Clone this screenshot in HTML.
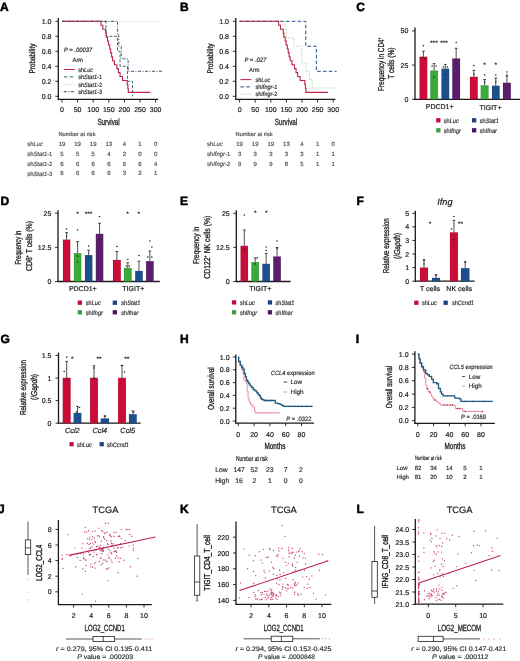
<!DOCTYPE html>
<html><head><meta charset="utf-8"><style>
html,body{margin:0;padding:0;background:#fff;}
svg{display:block;font-family:"Liberation Sans", sans-serif;filter:blur(0.3px);}
text{text-rendering:geometricPrecision;}
</style></head><body>
<svg width="520" height="661" viewBox="0 0 520 661">
<rect width="520" height="661" fill="#fff"/>
<text x="0.00" y="11.00" font-size="12" fill="#000" font-weight="bold" stroke="#000" stroke-width="0.5">A</text>
<path d="M62.00,21.30 L161.22,21.30" fill="none" stroke="#b5cdb0" stroke-width="0.9" stroke-dasharray="1,1.6"/>
<path d="M62.00,21.30 L105.99,21.30 L105.99,36.30 L117.54,36.30 L117.54,51.30 L120.03,51.30 L120.03,66.30 L127.52,66.30 L127.52,81.30 L132.51,81.30 L132.51,96.30 L132.51,96.30" fill="none" stroke="#2f6a78" stroke-width="1.0" stroke-dasharray="3,1.8"/>
<path d="M62.00,21.30 L117.54,21.30 L117.54,33.80 L118.78,33.80 L118.78,46.30 L121.28,46.30 L121.28,58.80 L128.14,58.80 L128.14,71.30 L161.84,71.30" fill="none" stroke="#3a3d5c" stroke-width="0.9" stroke-dasharray="3,1.5,1,1.5"/>
<path d="M62.00,21.30 L101.00,21.30 L101.00,25.25 L102.87,25.25 L102.87,29.19 L105.68,29.19 L105.68,33.14 L106.30,33.14 L106.30,37.09 L107.55,37.09 L107.55,41.04 L108.49,41.04 L108.49,44.98 L109.74,44.98 L109.74,48.93 L110.67,48.93 L110.67,52.88 L111.61,52.88 L111.61,56.83 L112.54,56.83 L112.54,60.77 L114.42,60.77 L114.42,64.72 L116.91,64.72 L116.91,68.67 L118.47,68.67 L118.47,72.62 L120.03,72.62 L120.03,76.56 L122.53,76.56 L122.53,80.51 L127.21,80.51 L127.21,84.46 L127.83,84.46 L127.83,88.41 L128.30,88.41 L128.30,92.35 L150.30,92.35" fill="none" stroke="#bc2449" stroke-width="1.1"/>
<line x1="58.30" y1="18.00" x2="58.30" y2="99.80" stroke="#1a1a1a" stroke-width="1.3"/>
<line x1="57.80" y1="99.30" x2="158.30" y2="99.30" stroke="#1a1a1a" stroke-width="1.3"/>
<line x1="55.30" y1="96.30" x2="58.30" y2="96.30" stroke="#1a1a1a" stroke-width="0.9"/>
<text x="51.50" y="98.82" font-size="7.0" fill="#222" text-anchor="end" stroke="#222" stroke-width="0.2">0.0</text>
<line x1="55.30" y1="81.30" x2="58.30" y2="81.30" stroke="#1a1a1a" stroke-width="0.9"/>
<text x="51.50" y="83.82" font-size="7.0" fill="#222" text-anchor="end" stroke="#222" stroke-width="0.2">0.2</text>
<line x1="55.30" y1="66.30" x2="58.30" y2="66.30" stroke="#1a1a1a" stroke-width="0.9"/>
<text x="51.50" y="68.82" font-size="7.0" fill="#222" text-anchor="end" stroke="#222" stroke-width="0.2">0.4</text>
<line x1="55.30" y1="51.30" x2="58.30" y2="51.30" stroke="#1a1a1a" stroke-width="0.9"/>
<text x="51.50" y="53.82" font-size="7.0" fill="#222" text-anchor="end" stroke="#222" stroke-width="0.2">0.6</text>
<line x1="55.30" y1="36.30" x2="58.30" y2="36.30" stroke="#1a1a1a" stroke-width="0.9"/>
<text x="51.50" y="38.82" font-size="7.0" fill="#222" text-anchor="end" stroke="#222" stroke-width="0.2">0.8</text>
<line x1="55.30" y1="21.30" x2="58.30" y2="21.30" stroke="#1a1a1a" stroke-width="0.9"/>
<text x="51.50" y="23.82" font-size="7.0" fill="#222" text-anchor="end" stroke="#222" stroke-width="0.2">1.0</text>
<line x1="62.00" y1="99.30" x2="62.00" y2="102.60" stroke="#1a1a1a" stroke-width="0.9"/>
<text x="62.00" y="111.92" font-size="7.0" fill="#222" text-anchor="middle" stroke="#222" stroke-width="0.2">0</text>
<line x1="77.60" y1="99.30" x2="77.60" y2="102.60" stroke="#1a1a1a" stroke-width="0.9"/>
<text x="77.60" y="111.92" font-size="7.0" fill="#222" text-anchor="middle" stroke="#222" stroke-width="0.2">50</text>
<line x1="93.20" y1="99.30" x2="93.20" y2="102.60" stroke="#1a1a1a" stroke-width="0.9"/>
<text x="93.20" y="111.92" font-size="7.0" fill="#222" text-anchor="middle" stroke="#222" stroke-width="0.2">100</text>
<line x1="108.80" y1="99.30" x2="108.80" y2="102.60" stroke="#1a1a1a" stroke-width="0.9"/>
<text x="108.80" y="111.92" font-size="7.0" fill="#222" text-anchor="middle" stroke="#222" stroke-width="0.2">150</text>
<line x1="124.40" y1="99.30" x2="124.40" y2="102.60" stroke="#1a1a1a" stroke-width="0.9"/>
<text x="124.40" y="111.92" font-size="7.0" fill="#222" text-anchor="middle" stroke="#222" stroke-width="0.2">200</text>
<line x1="140.00" y1="99.30" x2="140.00" y2="102.60" stroke="#1a1a1a" stroke-width="0.9"/>
<text x="140.00" y="111.92" font-size="7.0" fill="#222" text-anchor="middle" stroke="#222" stroke-width="0.2">250</text>
<line x1="155.60" y1="99.30" x2="155.60" y2="102.60" stroke="#1a1a1a" stroke-width="0.9"/>
<text x="155.60" y="111.92" font-size="7.0" fill="#222" text-anchor="middle" stroke="#222" stroke-width="0.2">300</text>
<text x="35.49" y="58.60" font-size="8.3" fill="#222" text-anchor="middle" textLength="30" lengthAdjust="spacingAndGlyphs" transform="rotate(-90 35.49 58.60)" stroke="#222" stroke-width="0.32">Probability</text>
<text x="108.60" y="125.24" font-size="9" fill="#222" text-anchor="middle" textLength="22.3" lengthAdjust="spacingAndGlyphs" stroke="#222" stroke-width="0.32">Survival</text>
<g transform="translate(64.00 52.07) scale(0.93 1)"><text x="0" y="0" font-size="6.3" fill="#333" font-style="italic" stroke="#333" stroke-width="0.2">P = .00037</text></g>
<g transform="translate(72.60 61.80) scale(0.93 1)"><text x="0" y="0" font-size="6.1" fill="#333" stroke="#333" stroke-width="0.2">Arm</text></g>
<line x1="63.80" y1="69.50" x2="74.70" y2="69.50" stroke="#bc2449" stroke-width="1.0"/>
<g transform="translate(78.20 71.73) scale(0.9 1)"><text x="0" y="0" font-size="6.2" fill="#333" stroke="#333" stroke-width="0.2">sh<tspan font-style="italic">Luc</tspan></text></g>
<line x1="63.80" y1="76.90" x2="74.70" y2="76.90" stroke="#2f6a78" stroke-width="1.0" stroke-dasharray="3.6,2.2"/>
<g transform="translate(78.20 79.13) scale(0.9 1)"><text x="0" y="0" font-size="6.2" fill="#333" stroke="#333" stroke-width="0.2">sh<tspan font-style="italic">Stat1</tspan>-1</text></g>
<line x1="63.80" y1="84.30" x2="74.70" y2="84.30" stroke="#b5cdb0" stroke-width="1.0" stroke-dasharray="1,1.6"/>
<g transform="translate(78.20 86.53) scale(0.9 1)"><text x="0" y="0" font-size="6.2" fill="#333" stroke="#333" stroke-width="0.2">sh<tspan font-style="italic">Stat1</tspan>-2</text></g>
<line x1="63.80" y1="91.70" x2="74.70" y2="91.70" stroke="#3a3d5c" stroke-width="1.0" stroke-dasharray="3,1.5,1,1.5"/>
<g transform="translate(78.20 93.93) scale(0.9 1)"><text x="0" y="0" font-size="6.2" fill="#333" stroke="#333" stroke-width="0.2">sh<tspan font-style="italic">Stat1</tspan>-3</text></g>
<text x="58.50" y="135.95" font-size="5.7" fill="#555" stroke="#555" stroke-width="0.2">Number at risk</text>
<g transform="translate(27.20 146.13) scale(0.95 1)"><text x="0" y="0" font-size="6.2" fill="#555" stroke="#555" stroke-width="0.2">sh<tspan font-style="italic">Luc</tspan></text></g>
<text x="62.00" y="146.06" font-size="6.0" fill="#555" text-anchor="middle" stroke="#555" stroke-width="0.2">19</text>
<text x="77.60" y="146.06" font-size="6.0" fill="#555" text-anchor="middle" stroke="#555" stroke-width="0.2">19</text>
<text x="93.20" y="146.06" font-size="6.0" fill="#555" text-anchor="middle" stroke="#555" stroke-width="0.2">19</text>
<text x="108.80" y="146.06" font-size="6.0" fill="#555" text-anchor="middle" stroke="#555" stroke-width="0.2">13</text>
<text x="124.40" y="146.06" font-size="6.0" fill="#555" text-anchor="middle" stroke="#555" stroke-width="0.2">4</text>
<text x="140.00" y="146.06" font-size="6.0" fill="#555" text-anchor="middle" stroke="#555" stroke-width="0.2">1</text>
<text x="155.60" y="146.06" font-size="6.0" fill="#555" text-anchor="middle" stroke="#555" stroke-width="0.2">0</text>
<g transform="translate(27.20 155.93) scale(0.95 1)"><text x="0" y="0" font-size="6.2" fill="#555" stroke="#555" stroke-width="0.2">sh<tspan font-style="italic">Stat1</tspan>-1</text></g>
<text x="62.00" y="155.86" font-size="6.0" fill="#555" text-anchor="middle" stroke="#555" stroke-width="0.2">5</text>
<text x="77.60" y="155.86" font-size="6.0" fill="#555" text-anchor="middle" stroke="#555" stroke-width="0.2">5</text>
<text x="93.20" y="155.86" font-size="6.0" fill="#555" text-anchor="middle" stroke="#555" stroke-width="0.2">5</text>
<text x="108.80" y="155.86" font-size="6.0" fill="#555" text-anchor="middle" stroke="#555" stroke-width="0.2">4</text>
<text x="124.40" y="155.86" font-size="6.0" fill="#555" text-anchor="middle" stroke="#555" stroke-width="0.2">2</text>
<text x="140.00" y="155.86" font-size="6.0" fill="#555" text-anchor="middle" stroke="#555" stroke-width="0.2">0</text>
<text x="155.60" y="155.86" font-size="6.0" fill="#555" text-anchor="middle" stroke="#555" stroke-width="0.2">0</text>
<g transform="translate(27.20 165.73) scale(0.95 1)"><text x="0" y="0" font-size="6.2" fill="#555" stroke="#555" stroke-width="0.2">sh<tspan font-style="italic">Stat1</tspan>-2</text></g>
<text x="62.00" y="165.66" font-size="6.0" fill="#555" text-anchor="middle" stroke="#555" stroke-width="0.2">6</text>
<text x="77.60" y="165.66" font-size="6.0" fill="#555" text-anchor="middle" stroke="#555" stroke-width="0.2">6</text>
<text x="93.20" y="165.66" font-size="6.0" fill="#555" text-anchor="middle" stroke="#555" stroke-width="0.2">6</text>
<text x="108.80" y="165.66" font-size="6.0" fill="#555" text-anchor="middle" stroke="#555" stroke-width="0.2">6</text>
<text x="124.40" y="165.66" font-size="6.0" fill="#555" text-anchor="middle" stroke="#555" stroke-width="0.2">6</text>
<text x="140.00" y="165.66" font-size="6.0" fill="#555" text-anchor="middle" stroke="#555" stroke-width="0.2">6</text>
<text x="155.60" y="165.66" font-size="6.0" fill="#555" text-anchor="middle" stroke="#555" stroke-width="0.2">4</text>
<g transform="translate(27.20 175.53) scale(0.95 1)"><text x="0" y="0" font-size="6.2" fill="#555" stroke="#555" stroke-width="0.2">sh<tspan font-style="italic">Stat1</tspan>-3</text></g>
<text x="62.00" y="175.46" font-size="6.0" fill="#555" text-anchor="middle" stroke="#555" stroke-width="0.2">6</text>
<text x="77.60" y="175.46" font-size="6.0" fill="#555" text-anchor="middle" stroke="#555" stroke-width="0.2">6</text>
<text x="93.20" y="175.46" font-size="6.0" fill="#555" text-anchor="middle" stroke="#555" stroke-width="0.2">6</text>
<text x="108.80" y="175.46" font-size="6.0" fill="#555" text-anchor="middle" stroke="#555" stroke-width="0.2">6</text>
<text x="124.40" y="175.46" font-size="6.0" fill="#555" text-anchor="middle" stroke="#555" stroke-width="0.2">3</text>
<text x="140.00" y="175.46" font-size="6.0" fill="#555" text-anchor="middle" stroke="#555" stroke-width="0.2">2</text>
<text x="155.60" y="175.46" font-size="6.0" fill="#555" text-anchor="middle" stroke="#555" stroke-width="0.2">1</text>
<text x="180.00" y="11.00" font-size="12" fill="#000" font-weight="bold" stroke="#000" stroke-width="0.5">B</text>
<path d="M239.60,21.30 L285.15,21.30 L285.15,29.63 L286.40,29.63 L286.40,37.97 L293.89,37.97 L293.89,46.30 L301.69,46.30 L301.69,54.63 L302.00,54.63 L302.00,62.97 L306.06,62.97 L306.06,71.30 L309.49,71.30 L309.49,79.63 L312.30,79.63 L312.30,87.97 L336.63,87.97" fill="none" stroke="#8fcf8a" stroke-width="0.9" stroke-dasharray="1,1.4"/>
<path d="M239.60,21.30 L305.74,21.30 L305.74,46.30 L316.35,46.30 L316.35,71.30 L336.63,71.30" fill="none" stroke="#2b4c8c" stroke-width="1.0" stroke-dasharray="3.6,2.2"/>
<path d="M239.60,21.30 L278.60,21.30 L278.60,25.25 L280.47,25.25 L280.47,29.19 L283.28,29.19 L283.28,33.14 L283.90,33.14 L283.90,37.09 L285.15,37.09 L285.15,41.04 L286.09,41.04 L286.09,44.98 L287.34,44.98 L287.34,48.93 L288.27,48.93 L288.27,52.88 L289.21,52.88 L289.21,56.83 L290.14,56.83 L290.14,60.77 L292.02,60.77 L292.02,64.72 L294.51,64.72 L294.51,68.67 L296.07,68.67 L296.07,72.62 L297.63,72.62 L297.63,76.56 L300.13,76.56 L300.13,80.51 L304.81,80.51 L304.81,84.46 L305.43,84.46 L305.43,88.41 L305.90,88.41 L305.90,92.35 L327.90,92.35" fill="none" stroke="#bc2449" stroke-width="1.1"/>
<line x1="235.80" y1="18.00" x2="235.80" y2="99.80" stroke="#1a1a1a" stroke-width="1.3"/>
<line x1="235.30" y1="99.30" x2="335.50" y2="99.30" stroke="#1a1a1a" stroke-width="1.3"/>
<line x1="232.80" y1="96.30" x2="235.80" y2="96.30" stroke="#1a1a1a" stroke-width="0.9"/>
<text x="229.00" y="98.82" font-size="7.0" fill="#222" text-anchor="end" stroke="#222" stroke-width="0.2">0.0</text>
<line x1="232.80" y1="81.30" x2="235.80" y2="81.30" stroke="#1a1a1a" stroke-width="0.9"/>
<text x="229.00" y="83.82" font-size="7.0" fill="#222" text-anchor="end" stroke="#222" stroke-width="0.2">0.2</text>
<line x1="232.80" y1="66.30" x2="235.80" y2="66.30" stroke="#1a1a1a" stroke-width="0.9"/>
<text x="229.00" y="68.82" font-size="7.0" fill="#222" text-anchor="end" stroke="#222" stroke-width="0.2">0.4</text>
<line x1="232.80" y1="51.30" x2="235.80" y2="51.30" stroke="#1a1a1a" stroke-width="0.9"/>
<text x="229.00" y="53.82" font-size="7.0" fill="#222" text-anchor="end" stroke="#222" stroke-width="0.2">0.6</text>
<line x1="232.80" y1="36.30" x2="235.80" y2="36.30" stroke="#1a1a1a" stroke-width="0.9"/>
<text x="229.00" y="38.82" font-size="7.0" fill="#222" text-anchor="end" stroke="#222" stroke-width="0.2">0.8</text>
<line x1="232.80" y1="21.30" x2="235.80" y2="21.30" stroke="#1a1a1a" stroke-width="0.9"/>
<text x="229.00" y="23.82" font-size="7.0" fill="#222" text-anchor="end" stroke="#222" stroke-width="0.2">1.0</text>
<line x1="239.60" y1="99.30" x2="239.60" y2="102.60" stroke="#1a1a1a" stroke-width="0.9"/>
<text x="239.60" y="111.92" font-size="7.0" fill="#222" text-anchor="middle" stroke="#222" stroke-width="0.2">0</text>
<line x1="255.20" y1="99.30" x2="255.20" y2="102.60" stroke="#1a1a1a" stroke-width="0.9"/>
<text x="255.20" y="111.92" font-size="7.0" fill="#222" text-anchor="middle" stroke="#222" stroke-width="0.2">50</text>
<line x1="270.80" y1="99.30" x2="270.80" y2="102.60" stroke="#1a1a1a" stroke-width="0.9"/>
<text x="270.80" y="111.92" font-size="7.0" fill="#222" text-anchor="middle" stroke="#222" stroke-width="0.2">100</text>
<line x1="286.40" y1="99.30" x2="286.40" y2="102.60" stroke="#1a1a1a" stroke-width="0.9"/>
<text x="286.40" y="111.92" font-size="7.0" fill="#222" text-anchor="middle" stroke="#222" stroke-width="0.2">150</text>
<line x1="302.00" y1="99.30" x2="302.00" y2="102.60" stroke="#1a1a1a" stroke-width="0.9"/>
<text x="302.00" y="111.92" font-size="7.0" fill="#222" text-anchor="middle" stroke="#222" stroke-width="0.2">200</text>
<line x1="317.60" y1="99.30" x2="317.60" y2="102.60" stroke="#1a1a1a" stroke-width="0.9"/>
<text x="317.60" y="111.92" font-size="7.0" fill="#222" text-anchor="middle" stroke="#222" stroke-width="0.2">250</text>
<line x1="333.20" y1="99.30" x2="333.20" y2="102.60" stroke="#1a1a1a" stroke-width="0.9"/>
<text x="333.20" y="111.92" font-size="7.0" fill="#222" text-anchor="middle" stroke="#222" stroke-width="0.2">300</text>
<text x="213.19" y="58.60" font-size="8.3" fill="#222" text-anchor="middle" textLength="30" lengthAdjust="spacingAndGlyphs" transform="rotate(-90 213.19 58.60)" stroke="#222" stroke-width="0.32">Probability</text>
<text x="286.00" y="125.24" font-size="9" fill="#222" text-anchor="middle" textLength="22.3" lengthAdjust="spacingAndGlyphs" stroke="#222" stroke-width="0.32">Survival</text>
<g transform="translate(244.40 62.47) scale(0.93 1)"><text x="0" y="0" font-size="6.3" fill="#333" font-style="italic" stroke="#333" stroke-width="0.2">P = .027</text></g>
<g transform="translate(249.00 72.20) scale(0.93 1)"><text x="0" y="0" font-size="6.1" fill="#333" stroke="#333" stroke-width="0.2">Arm</text></g>
<line x1="240.40" y1="79.60" x2="251.30" y2="79.60" stroke="#bc2449" stroke-width="1.0"/>
<g transform="translate(255.40 81.83) scale(0.9 1)"><text x="0" y="0" font-size="6.2" fill="#333" stroke="#333" stroke-width="0.2">sh<tspan font-style="italic">Luc</tspan></text></g>
<line x1="240.40" y1="86.90" x2="251.30" y2="86.90" stroke="#2b4c8c" stroke-width="1.0" stroke-dasharray="3.6,2.2"/>
<g transform="translate(255.40 89.13) scale(0.9 1)"><text x="0" y="0" font-size="6.2" fill="#333" stroke="#333" stroke-width="0.2">sh<tspan font-style="italic">Ifngr</tspan>-1</text></g>
<line x1="240.40" y1="94.20" x2="251.30" y2="94.20" stroke="#8fcf8a" stroke-width="1.0" stroke-dasharray="1,1.4"/>
<g transform="translate(255.40 96.43) scale(0.9 1)"><text x="0" y="0" font-size="6.2" fill="#333" stroke="#333" stroke-width="0.2">sh<tspan font-style="italic">Ifngr</tspan>-2</text></g>
<text x="235.60" y="135.95" font-size="5.7" fill="#555" stroke="#555" stroke-width="0.2">Number at risk</text>
<g transform="translate(207.00 146.13) scale(0.95 1)"><text x="0" y="0" font-size="6.2" fill="#555" stroke="#555" stroke-width="0.2">sh<tspan font-style="italic">Luc</tspan></text></g>
<text x="239.60" y="146.06" font-size="6.0" fill="#555" text-anchor="middle" stroke="#555" stroke-width="0.2">19</text>
<text x="255.20" y="146.06" font-size="6.0" fill="#555" text-anchor="middle" stroke="#555" stroke-width="0.2">19</text>
<text x="270.80" y="146.06" font-size="6.0" fill="#555" text-anchor="middle" stroke="#555" stroke-width="0.2">19</text>
<text x="286.40" y="146.06" font-size="6.0" fill="#555" text-anchor="middle" stroke="#555" stroke-width="0.2">13</text>
<text x="302.00" y="146.06" font-size="6.0" fill="#555" text-anchor="middle" stroke="#555" stroke-width="0.2">4</text>
<text x="317.60" y="146.06" font-size="6.0" fill="#555" text-anchor="middle" stroke="#555" stroke-width="0.2">1</text>
<text x="333.20" y="146.06" font-size="6.0" fill="#555" text-anchor="middle" stroke="#555" stroke-width="0.2">0</text>
<g transform="translate(207.00 155.93) scale(0.95 1)"><text x="0" y="0" font-size="6.2" fill="#555" stroke="#555" stroke-width="0.2">sh<tspan font-style="italic">Ifngr</tspan>-1</text></g>
<text x="239.60" y="155.86" font-size="6.0" fill="#555" text-anchor="middle" stroke="#555" stroke-width="0.2">3</text>
<text x="255.20" y="155.86" font-size="6.0" fill="#555" text-anchor="middle" stroke="#555" stroke-width="0.2">3</text>
<text x="270.80" y="155.86" font-size="6.0" fill="#555" text-anchor="middle" stroke="#555" stroke-width="0.2">3</text>
<text x="286.40" y="155.86" font-size="6.0" fill="#555" text-anchor="middle" stroke="#555" stroke-width="0.2">3</text>
<text x="302.00" y="155.86" font-size="6.0" fill="#555" text-anchor="middle" stroke="#555" stroke-width="0.2">3</text>
<text x="317.60" y="155.86" font-size="6.0" fill="#555" text-anchor="middle" stroke="#555" stroke-width="0.2">1</text>
<text x="333.20" y="155.86" font-size="6.0" fill="#555" text-anchor="middle" stroke="#555" stroke-width="0.2">1</text>
<g transform="translate(207.00 165.73) scale(0.95 1)"><text x="0" y="0" font-size="6.2" fill="#555" stroke="#555" stroke-width="0.2">sh<tspan font-style="italic">Ifngr</tspan>-2</text></g>
<text x="239.60" y="165.66" font-size="6.0" fill="#555" text-anchor="middle" stroke="#555" stroke-width="0.2">9</text>
<text x="255.20" y="165.66" font-size="6.0" fill="#555" text-anchor="middle" stroke="#555" stroke-width="0.2">9</text>
<text x="270.80" y="165.66" font-size="6.0" fill="#555" text-anchor="middle" stroke="#555" stroke-width="0.2">9</text>
<text x="286.40" y="165.66" font-size="6.0" fill="#555" text-anchor="middle" stroke="#555" stroke-width="0.2">8</text>
<text x="302.00" y="165.66" font-size="6.0" fill="#555" text-anchor="middle" stroke="#555" stroke-width="0.2">5</text>
<text x="317.60" y="165.66" font-size="6.0" fill="#555" text-anchor="middle" stroke="#555" stroke-width="0.2">1</text>
<text x="333.20" y="165.66" font-size="6.0" fill="#555" text-anchor="middle" stroke="#555" stroke-width="0.2">1</text>
<text x="356.30" y="11.00" font-size="12" fill="#000" font-weight="bold" stroke="#000" stroke-width="0.5">C</text>
<line x1="415.00" y1="27.60" x2="415.00" y2="99.80" stroke="#1a1a1a" stroke-width="1.3"/>
<line x1="414.50" y1="99.30" x2="520.00" y2="99.30" stroke="#1a1a1a" stroke-width="1.3"/>
<line x1="412.00" y1="99.30" x2="415.00" y2="99.30" stroke="#1a1a1a" stroke-width="0.9"/>
<text x="408.40" y="101.82" font-size="7.0" fill="#222" text-anchor="end" stroke="#222" stroke-width="0.2">0</text>
<line x1="412.00" y1="65.10" x2="415.00" y2="65.10" stroke="#1a1a1a" stroke-width="0.9"/>
<text x="408.40" y="67.62" font-size="7.0" fill="#222" text-anchor="end" stroke="#222" stroke-width="0.2">25</text>
<line x1="412.00" y1="30.90" x2="415.00" y2="30.90" stroke="#1a1a1a" stroke-width="0.9"/>
<text x="408.40" y="33.42" font-size="7.0" fill="#222" text-anchor="end" stroke="#222" stroke-width="0.2">50</text>
<text x="383.60" y="64.20" font-size="8.6" fill="#222" text-anchor="middle" textLength="53.5" lengthAdjust="spacingAndGlyphs" transform="rotate(-90 383.60 64.20)" stroke="#222" stroke-width="0.32">Frequency in CD4<tspan font-size="4.5" dy="-2.5">+</tspan></text>
<text x="394.10" y="63.10" font-size="8.6" fill="#222" text-anchor="middle" textLength="31.3" lengthAdjust="spacingAndGlyphs" transform="rotate(-90 394.10 63.10)" stroke="#222" stroke-width="0.32">T cells (%)</text>
<rect x="419.60" y="56.80" width="7.60" height="42.50" fill="#cc0c38" stroke="rgba(0,0,0,0.25)" stroke-width="0.4"/>
<line x1="423.40" y1="51.20" x2="423.40" y2="56.80" stroke="#222" stroke-width="0.8"/>
<line x1="422.00" y1="51.20" x2="424.80" y2="51.20" stroke="#222" stroke-width="0.8"/>
<circle cx="423.40" cy="45.80" r="0.8" fill="#222"/>
<circle cx="421.90" cy="57.50" r="0.8" fill="#222"/>
<circle cx="424.90" cy="59.00" r="0.8" fill="#222"/>
<rect x="430.30" y="70.70" width="7.60" height="28.60" fill="#3aaa3a" stroke="rgba(0,0,0,0.25)" stroke-width="0.4"/>
<line x1="434.10" y1="63.60" x2="434.10" y2="70.70" stroke="#222" stroke-width="0.8"/>
<line x1="432.70" y1="63.60" x2="435.50" y2="63.60" stroke="#222" stroke-width="0.8"/>
<circle cx="432.10" cy="66.00" r="0.8" fill="#222"/>
<circle cx="436.10" cy="66.00" r="0.8" fill="#222"/>
<circle cx="434.10" cy="77.00" r="0.8" fill="#222"/>
<rect x="441.50" y="68.80" width="7.60" height="30.50" fill="#1d4f8f" stroke="rgba(0,0,0,0.25)" stroke-width="0.4"/>
<line x1="445.30" y1="64.40" x2="445.30" y2="68.80" stroke="#222" stroke-width="0.8"/>
<line x1="443.90" y1="64.40" x2="446.70" y2="64.40" stroke="#222" stroke-width="0.8"/>
<circle cx="443.30" cy="67.00" r="0.8" fill="#222"/>
<circle cx="447.30" cy="67.00" r="0.8" fill="#222"/>
<circle cx="445.30" cy="75.00" r="0.8" fill="#222"/>
<rect x="452.30" y="58.50" width="7.70" height="40.80" fill="#5a1f6c" stroke="rgba(0,0,0,0.25)" stroke-width="0.4"/>
<line x1="456.15" y1="48.30" x2="456.15" y2="58.50" stroke="#222" stroke-width="0.8"/>
<line x1="454.75" y1="48.30" x2="457.55" y2="48.30" stroke="#222" stroke-width="0.8"/>
<circle cx="456.15" cy="42.50" r="0.8" fill="#222"/>
<circle cx="456.15" cy="63.00" r="0.8" fill="#222"/>
<rect x="470.00" y="76.90" width="7.70" height="22.40" fill="#cc0c38" stroke="rgba(0,0,0,0.25)" stroke-width="0.4"/>
<line x1="473.85" y1="70.40" x2="473.85" y2="76.90" stroke="#222" stroke-width="0.8"/>
<line x1="472.45" y1="70.40" x2="475.25" y2="70.40" stroke="#222" stroke-width="0.8"/>
<circle cx="473.85" cy="65.60" r="0.8" fill="#222"/>
<circle cx="473.85" cy="74.00" r="0.8" fill="#222"/>
<rect x="480.80" y="85.40" width="7.70" height="13.90" fill="#3aaa3a" stroke="rgba(0,0,0,0.25)" stroke-width="0.4"/>
<line x1="484.65" y1="79.50" x2="484.65" y2="85.40" stroke="#222" stroke-width="0.8"/>
<line x1="483.25" y1="79.50" x2="486.05" y2="79.50" stroke="#222" stroke-width="0.8"/>
<circle cx="484.65" cy="75.00" r="0.8" fill="#222"/>
<circle cx="484.65" cy="82.00" r="0.8" fill="#222"/>
<rect x="492.00" y="85.80" width="7.60" height="13.50" fill="#1d4f8f" stroke="rgba(0,0,0,0.25)" stroke-width="0.4"/>
<line x1="495.80" y1="78.00" x2="495.80" y2="85.80" stroke="#222" stroke-width="0.8"/>
<line x1="494.40" y1="78.00" x2="497.20" y2="78.00" stroke="#222" stroke-width="0.8"/>
<circle cx="495.80" cy="75.00" r="0.8" fill="#222"/>
<circle cx="495.80" cy="82.00" r="0.8" fill="#222"/>
<rect x="503.00" y="82.80" width="7.80" height="16.50" fill="#5a1f6c" stroke="rgba(0,0,0,0.25)" stroke-width="0.4"/>
<line x1="506.90" y1="76.00" x2="506.90" y2="82.80" stroke="#222" stroke-width="0.8"/>
<line x1="505.50" y1="76.00" x2="508.30" y2="76.00" stroke="#222" stroke-width="0.8"/>
<circle cx="506.90" cy="72.00" r="0.8" fill="#222"/>
<circle cx="506.90" cy="75.00" r="0.8" fill="#222"/>
<text x="433.90" y="45.03" font-size="6.6" fill="#222" text-anchor="middle" stroke="#222" stroke-width="0.15">***</text>
<text x="444.00" y="45.03" font-size="6.6" fill="#222" text-anchor="middle" stroke="#222" stroke-width="0.15">***</text>
<text x="484.60" y="66.53" font-size="6.6" fill="#222" text-anchor="middle" stroke="#222" stroke-width="0.15">*</text>
<text x="495.80" y="66.53" font-size="6.6" fill="#222" text-anchor="middle" stroke="#222" stroke-width="0.15">*</text>
<text x="439.70" y="109.12" font-size="7.0" fill="#222" text-anchor="middle" stroke="#222" stroke-width="0.2">PDCD1+</text>
<text x="490.50" y="109.52" font-size="7.0" fill="#222" text-anchor="middle" stroke="#222" stroke-width="0.2">TIGIT+</text>
<rect x="436.20" y="118.15" width="4.30" height="4.30" fill="#c20e38" stroke="none" stroke-width="0"/>
<g transform="translate(443.80 122.60) scale(0.875 1)"><text x="0" y="0" font-size="6.4" fill="#333" stroke="#333" stroke-width="0.2">sh<tspan font-style="italic">Luc</tspan></text></g>
<rect x="472.00" y="118.15" width="4.30" height="4.30" fill="#1b427e" stroke="none" stroke-width="0"/>
<g transform="translate(479.80 122.60) scale(0.875 1)"><text x="0" y="0" font-size="6.4" fill="#333" stroke="#333" stroke-width="0.2">sh<tspan font-style="italic">Stat1</tspan></text></g>
<rect x="436.20" y="128.15" width="4.30" height="4.30" fill="#3a9f3a" stroke="none" stroke-width="0"/>
<g transform="translate(443.80 132.60) scale(0.875 1)"><text x="0" y="0" font-size="6.4" fill="#333" stroke="#333" stroke-width="0.2">sh<tspan font-style="italic">Ifngr</tspan></text></g>
<rect x="472.00" y="128.15" width="4.30" height="4.30" fill="#46195c" stroke="none" stroke-width="0"/>
<g transform="translate(479.80 132.60) scale(0.875 1)"><text x="0" y="0" font-size="6.4" fill="#333" stroke="#333" stroke-width="0.2">sh<tspan font-style="italic">Ifnar</tspan></text></g>
<text x="0.50" y="204.80" font-size="12" fill="#000" font-weight="bold" stroke="#000" stroke-width="0.5">D</text>
<line x1="58.00" y1="210.20" x2="58.00" y2="282.00" stroke="#1a1a1a" stroke-width="1.3"/>
<line x1="57.50" y1="281.50" x2="159.80" y2="281.50" stroke="#1a1a1a" stroke-width="1.3"/>
<line x1="55.00" y1="281.50" x2="58.00" y2="281.50" stroke="#1a1a1a" stroke-width="0.9"/>
<text x="51.40" y="284.02" font-size="7.0" fill="#222" text-anchor="end" stroke="#222" stroke-width="0.2">0</text>
<line x1="55.00" y1="247.35" x2="58.00" y2="247.35" stroke="#1a1a1a" stroke-width="0.9"/>
<text x="51.40" y="249.87" font-size="7.0" fill="#222" text-anchor="end" stroke="#222" stroke-width="0.2">12.5</text>
<line x1="55.00" y1="213.20" x2="58.00" y2="213.20" stroke="#1a1a1a" stroke-width="0.9"/>
<text x="51.40" y="215.72" font-size="7.0" fill="#222" text-anchor="end" stroke="#222" stroke-width="0.2">25</text>
<text x="21.30" y="247.60" font-size="8.6" fill="#222" text-anchor="middle" textLength="34" lengthAdjust="spacingAndGlyphs" transform="rotate(-90 21.30 247.60)" stroke="#222" stroke-width="0.32">Frequency in</text>
<text x="31.90" y="246.00" font-size="8.6" fill="#222" text-anchor="middle" textLength="50" lengthAdjust="spacingAndGlyphs" transform="rotate(-90 31.90 246.00)" stroke="#222" stroke-width="0.32">CD8<tspan font-size="4.5" dy="-2.5">+</tspan><tspan dy="2.5"> T cells (%)</tspan></text>
<rect x="63.00" y="239.70" width="7.20" height="41.80" fill="#cc0c38" stroke="rgba(0,0,0,0.25)" stroke-width="0.4"/>
<line x1="66.60" y1="232.60" x2="66.60" y2="239.70" stroke="#222" stroke-width="0.8"/>
<line x1="65.20" y1="232.60" x2="68.00" y2="232.60" stroke="#222" stroke-width="0.8"/>
<circle cx="66.60" cy="229.00" r="0.8" fill="#222"/>
<circle cx="66.60" cy="236.00" r="0.8" fill="#222"/>
<rect x="74.00" y="253.20" width="7.20" height="28.30" fill="#3aaa3a" stroke="rgba(0,0,0,0.25)" stroke-width="0.4"/>
<line x1="77.60" y1="241.60" x2="77.60" y2="253.20" stroke="#222" stroke-width="0.8"/>
<line x1="76.20" y1="241.60" x2="79.00" y2="241.60" stroke="#222" stroke-width="0.8"/>
<circle cx="77.60" cy="230.00" r="0.8" fill="#222"/>
<circle cx="77.60" cy="256.00" r="0.8" fill="#222"/>
<circle cx="77.60" cy="262.00" r="0.8" fill="#222"/>
<rect x="85.00" y="255.10" width="7.30" height="26.40" fill="#1d4f8f" stroke="rgba(0,0,0,0.25)" stroke-width="0.4"/>
<line x1="88.65" y1="250.20" x2="88.65" y2="255.10" stroke="#222" stroke-width="0.8"/>
<line x1="87.25" y1="250.20" x2="90.05" y2="250.20" stroke="#222" stroke-width="0.8"/>
<circle cx="88.65" cy="246.00" r="0.8" fill="#222"/>
<circle cx="88.65" cy="258.00" r="0.8" fill="#222"/>
<rect x="95.90" y="233.90" width="7.30" height="47.60" fill="#5a1f6c" stroke="rgba(0,0,0,0.25)" stroke-width="0.4"/>
<line x1="99.55" y1="223.30" x2="99.55" y2="233.90" stroke="#222" stroke-width="0.8"/>
<line x1="98.15" y1="223.30" x2="100.95" y2="223.30" stroke="#222" stroke-width="0.8"/>
<circle cx="99.55" cy="216.50" r="0.8" fill="#222"/>
<circle cx="99.55" cy="240.00" r="0.8" fill="#222"/>
<rect x="113.00" y="260.00" width="7.80" height="21.50" fill="#cc0c38" stroke="rgba(0,0,0,0.25)" stroke-width="0.4"/>
<line x1="116.90" y1="251.50" x2="116.90" y2="260.00" stroke="#222" stroke-width="0.8"/>
<line x1="115.50" y1="251.50" x2="118.30" y2="251.50" stroke="#222" stroke-width="0.8"/>
<circle cx="116.90" cy="246.50" r="0.8" fill="#222"/>
<rect x="124.00" y="268.00" width="7.60" height="13.50" fill="#3aaa3a" stroke="rgba(0,0,0,0.25)" stroke-width="0.4"/>
<line x1="127.80" y1="262.80" x2="127.80" y2="268.00" stroke="#222" stroke-width="0.8"/>
<line x1="126.40" y1="262.80" x2="129.20" y2="262.80" stroke="#222" stroke-width="0.8"/>
<circle cx="127.80" cy="259.50" r="0.8" fill="#222"/>
<circle cx="126.30" cy="266.00" r="0.8" fill="#222"/>
<circle cx="129.30" cy="266.00" r="0.8" fill="#222"/>
<rect x="135.20" y="271.00" width="7.50" height="10.50" fill="#1d4f8f" stroke="rgba(0,0,0,0.25)" stroke-width="0.4"/>
<line x1="138.95" y1="261.20" x2="138.95" y2="271.00" stroke="#222" stroke-width="0.8"/>
<line x1="137.55" y1="261.20" x2="140.35" y2="261.20" stroke="#222" stroke-width="0.8"/>
<circle cx="138.95" cy="255.50" r="0.8" fill="#222"/>
<rect x="146.10" y="261.20" width="7.50" height="20.30" fill="#5a1f6c" stroke="rgba(0,0,0,0.25)" stroke-width="0.4"/>
<line x1="149.85" y1="251.00" x2="149.85" y2="261.20" stroke="#222" stroke-width="0.8"/>
<line x1="148.45" y1="251.00" x2="151.25" y2="251.00" stroke="#222" stroke-width="0.8"/>
<circle cx="149.85" cy="241.00" r="0.8" fill="#222"/>
<circle cx="151.85" cy="247.00" r="0.8" fill="#222"/>
<circle cx="147.85" cy="257.00" r="0.8" fill="#222"/>
<circle cx="151.85" cy="257.00" r="0.8" fill="#222"/>
<text x="77.50" y="215.53" font-size="6.6" fill="#222" text-anchor="middle" stroke="#222" stroke-width="0.15">*</text>
<text x="88.60" y="215.53" font-size="6.6" fill="#222" text-anchor="middle" stroke="#222" stroke-width="0.15">***</text>
<text x="127.60" y="215.53" font-size="6.6" fill="#222" text-anchor="middle" stroke="#222" stroke-width="0.15">*</text>
<text x="138.90" y="215.53" font-size="6.6" fill="#222" text-anchor="middle" stroke="#222" stroke-width="0.15">*</text>
<text x="82.80" y="291.22" font-size="7.0" fill="#222" text-anchor="middle" stroke="#222" stroke-width="0.2">PDCD1+</text>
<text x="133.30" y="291.42" font-size="7.0" fill="#222" text-anchor="middle" stroke="#222" stroke-width="0.2">TIGIT+</text>
<rect x="77.70" y="300.55" width="4.30" height="4.30" fill="#c20e38" stroke="none" stroke-width="0"/>
<g transform="translate(85.80 305.00) scale(0.875 1)"><text x="0" y="0" font-size="6.4" fill="#333" stroke="#333" stroke-width="0.2">sh<tspan font-style="italic">Luc</tspan></text></g>
<rect x="112.70" y="300.55" width="4.30" height="4.30" fill="#1b427e" stroke="none" stroke-width="0"/>
<g transform="translate(121.30 305.00) scale(0.875 1)"><text x="0" y="0" font-size="6.4" fill="#333" stroke="#333" stroke-width="0.2">sh<tspan font-style="italic">Stat1</tspan></text></g>
<rect x="77.70" y="310.15" width="4.30" height="4.30" fill="#3a9f3a" stroke="none" stroke-width="0"/>
<g transform="translate(85.80 314.60) scale(0.875 1)"><text x="0" y="0" font-size="6.4" fill="#333" stroke="#333" stroke-width="0.2">sh<tspan font-style="italic">Ifngr</tspan></text></g>
<rect x="112.70" y="310.15" width="4.30" height="4.30" fill="#46195c" stroke="none" stroke-width="0"/>
<g transform="translate(121.30 314.60) scale(0.875 1)"><text x="0" y="0" font-size="6.4" fill="#333" stroke="#333" stroke-width="0.2">sh<tspan font-style="italic">Ifnar</tspan></text></g>
<text x="180.00" y="205.00" font-size="12" fill="#000" font-weight="bold" stroke="#000" stroke-width="0.5">E</text>
<line x1="236.30" y1="210.30" x2="236.30" y2="282.00" stroke="#1a1a1a" stroke-width="1.3"/>
<line x1="235.80" y1="281.50" x2="290.60" y2="281.50" stroke="#1a1a1a" stroke-width="1.3"/>
<line x1="233.30" y1="281.50" x2="236.30" y2="281.50" stroke="#1a1a1a" stroke-width="0.9"/>
<text x="229.70" y="284.02" font-size="7.0" fill="#222" text-anchor="end" stroke="#222" stroke-width="0.2">0</text>
<line x1="233.30" y1="247.40" x2="236.30" y2="247.40" stroke="#1a1a1a" stroke-width="0.9"/>
<text x="229.70" y="249.92" font-size="7.0" fill="#222" text-anchor="end" stroke="#222" stroke-width="0.2">12.5</text>
<line x1="233.30" y1="213.30" x2="236.30" y2="213.30" stroke="#1a1a1a" stroke-width="0.9"/>
<text x="229.70" y="215.82" font-size="7.0" fill="#222" text-anchor="end" stroke="#222" stroke-width="0.2">25</text>
<text x="199.10" y="245.30" font-size="8.6" fill="#222" text-anchor="middle" textLength="37.5" lengthAdjust="spacingAndGlyphs" transform="rotate(-90 199.10 245.30)" stroke="#222" stroke-width="0.32">Frequency in</text>
<text x="209.70" y="247.20" font-size="8.6" fill="#222" text-anchor="middle" textLength="63" lengthAdjust="spacingAndGlyphs" transform="rotate(-90 209.70 247.20)" stroke="#222" stroke-width="0.32">CD122<tspan font-size="4.5" dy="-2.5">+</tspan><tspan dy="2.5"> NK cells (%)</tspan></text>
<rect x="240.60" y="245.90" width="7.40" height="35.60" fill="#cc0c38" stroke="rgba(0,0,0,0.25)" stroke-width="0.4"/>
<line x1="244.30" y1="229.90" x2="244.30" y2="245.90" stroke="#222" stroke-width="0.8"/>
<line x1="242.90" y1="229.90" x2="245.70" y2="229.90" stroke="#222" stroke-width="0.8"/>
<circle cx="244.30" cy="215.00" r="0.8" fill="#222"/>
<circle cx="244.30" cy="250.00" r="0.8" fill="#222"/>
<rect x="251.40" y="262.20" width="7.50" height="19.30" fill="#3aaa3a" stroke="rgba(0,0,0,0.25)" stroke-width="0.4"/>
<line x1="255.15" y1="257.90" x2="255.15" y2="262.20" stroke="#222" stroke-width="0.8"/>
<line x1="253.75" y1="257.90" x2="256.55" y2="257.90" stroke="#222" stroke-width="0.8"/>
<circle cx="255.15" cy="264.00" r="0.8" fill="#222"/>
<circle cx="257.15" cy="258.00" r="0.8" fill="#222"/>
<rect x="262.40" y="263.90" width="7.50" height="17.60" fill="#1d4f8f" stroke="rgba(0,0,0,0.25)" stroke-width="0.4"/>
<line x1="266.15" y1="253.40" x2="266.15" y2="263.90" stroke="#222" stroke-width="0.8"/>
<line x1="264.75" y1="253.40" x2="267.55" y2="253.40" stroke="#222" stroke-width="0.8"/>
<circle cx="266.15" cy="247.00" r="0.8" fill="#222"/>
<circle cx="266.15" cy="250.50" r="0.8" fill="#222"/>
<rect x="273.30" y="256.50" width="7.50" height="25.00" fill="#5a1f6c" stroke="rgba(0,0,0,0.25)" stroke-width="0.4"/>
<line x1="277.05" y1="247.50" x2="277.05" y2="256.50" stroke="#222" stroke-width="0.8"/>
<line x1="275.65" y1="247.50" x2="278.45" y2="247.50" stroke="#222" stroke-width="0.8"/>
<circle cx="277.05" cy="241.00" r="0.8" fill="#222"/>
<circle cx="277.05" cy="248.50" r="0.8" fill="#222"/>
<text x="255.20" y="215.33" font-size="6.6" fill="#222" text-anchor="middle" stroke="#222" stroke-width="0.15">*</text>
<text x="266.20" y="215.33" font-size="6.6" fill="#222" text-anchor="middle" stroke="#222" stroke-width="0.15">*</text>
<text x="260.30" y="290.92" font-size="7.0" fill="#222" text-anchor="middle" stroke="#222" stroke-width="0.2">TIGIT+</text>
<rect x="231.90" y="300.25" width="4.30" height="4.30" fill="#c20e38" stroke="none" stroke-width="0"/>
<g transform="translate(239.90 304.70) scale(0.875 1)"><text x="0" y="0" font-size="6.4" fill="#333" stroke="#333" stroke-width="0.2">sh<tspan font-style="italic">Luc</tspan></text></g>
<rect x="267.80" y="300.25" width="4.30" height="4.30" fill="#1b427e" stroke="none" stroke-width="0"/>
<g transform="translate(275.50 304.70) scale(0.875 1)"><text x="0" y="0" font-size="6.4" fill="#333" stroke="#333" stroke-width="0.2">sh<tspan font-style="italic">Stat1</tspan></text></g>
<rect x="231.90" y="310.15" width="4.30" height="4.30" fill="#3a9f3a" stroke="none" stroke-width="0"/>
<g transform="translate(239.90 314.60) scale(0.875 1)"><text x="0" y="0" font-size="6.4" fill="#333" stroke="#333" stroke-width="0.2">sh<tspan font-style="italic">Ifngr</tspan></text></g>
<rect x="267.80" y="310.15" width="4.30" height="4.30" fill="#46195c" stroke="none" stroke-width="0"/>
<g transform="translate(275.50 314.60) scale(0.875 1)"><text x="0" y="0" font-size="6.4" fill="#333" stroke="#333" stroke-width="0.2">sh<tspan font-style="italic">Ifnar</tspan></text></g>
<text x="356.50" y="205.00" font-size="12" fill="#000" font-weight="bold" stroke="#000" stroke-width="0.5">F</text>
<line x1="415.30" y1="210.80" x2="415.30" y2="281.70" stroke="#1a1a1a" stroke-width="1.3"/>
<line x1="414.80" y1="281.20" x2="474.60" y2="281.20" stroke="#1a1a1a" stroke-width="1.3"/>
<line x1="412.30" y1="281.20" x2="415.30" y2="281.20" stroke="#1a1a1a" stroke-width="0.9"/>
<text x="409.10" y="283.72" font-size="7.0" fill="#222" text-anchor="end" stroke="#222" stroke-width="0.2">0</text>
<line x1="412.30" y1="267.62" x2="415.30" y2="267.62" stroke="#1a1a1a" stroke-width="0.9"/>
<text x="409.10" y="270.14" font-size="7.0" fill="#222" text-anchor="end" stroke="#222" stroke-width="0.2">1</text>
<line x1="412.30" y1="254.04" x2="415.30" y2="254.04" stroke="#1a1a1a" stroke-width="0.9"/>
<text x="409.10" y="256.56" font-size="7.0" fill="#222" text-anchor="end" stroke="#222" stroke-width="0.2">2</text>
<line x1="412.30" y1="240.46" x2="415.30" y2="240.46" stroke="#1a1a1a" stroke-width="0.9"/>
<text x="409.10" y="242.98" font-size="7.0" fill="#222" text-anchor="end" stroke="#222" stroke-width="0.2">3</text>
<line x1="412.30" y1="226.88" x2="415.30" y2="226.88" stroke="#1a1a1a" stroke-width="0.9"/>
<text x="409.10" y="229.40" font-size="7.0" fill="#222" text-anchor="end" stroke="#222" stroke-width="0.2">4</text>
<line x1="412.30" y1="213.30" x2="415.30" y2="213.30" stroke="#1a1a1a" stroke-width="0.9"/>
<text x="409.10" y="215.82" font-size="7.0" fill="#222" text-anchor="end" stroke="#222" stroke-width="0.2">5</text>
<text x="388.90" y="245.70" font-size="8.6" fill="#222" text-anchor="middle" textLength="55" lengthAdjust="spacingAndGlyphs" transform="rotate(-90 388.90 245.70)" stroke="#222" stroke-width="0.32">Relative expression</text>
<text x="399.70" y="245.80" font-size="8.6" fill="#222" text-anchor="middle" textLength="26.2" lengthAdjust="spacingAndGlyphs" transform="rotate(-90 399.70 245.80)" stroke="#222" stroke-width="0.32">(/<tspan font-style="italic">Gapdh</tspan>)</text>
<text x="444.90" y="205.31" font-size="9.2" fill="#222" text-anchor="middle" font-style="italic" stroke="#222" stroke-width="0.2">Ifng</text>
<rect x="420.00" y="267.62" width="8.00" height="13.58" fill="#cc0c38" stroke="rgba(0,0,0,0.25)" stroke-width="0.4"/>
<line x1="424.00" y1="259.90" x2="424.00" y2="267.62" stroke="#222" stroke-width="0.8"/>
<line x1="422.60" y1="259.90" x2="425.40" y2="259.90" stroke="#222" stroke-width="0.8"/>
<circle cx="424.00" cy="259.90" r="0.8" fill="#222"/>
<circle cx="424.00" cy="264.00" r="0.8" fill="#222"/>
<rect x="432.00" y="277.90" width="8.00" height="3.30" fill="#1d4f8f" stroke="rgba(0,0,0,0.25)" stroke-width="0.4"/>
<line x1="436.00" y1="274.90" x2="436.00" y2="277.90" stroke="#222" stroke-width="0.8"/>
<line x1="434.60" y1="274.90" x2="437.40" y2="274.90" stroke="#222" stroke-width="0.8"/>
<circle cx="436.00" cy="275.00" r="0.8" fill="#222"/>
<rect x="450.00" y="232.40" width="7.90" height="48.80" fill="#cc0c38" stroke="rgba(0,0,0,0.25)" stroke-width="0.4"/>
<line x1="453.95" y1="220.30" x2="453.95" y2="232.40" stroke="#222" stroke-width="0.8"/>
<line x1="452.55" y1="220.30" x2="455.35" y2="220.30" stroke="#222" stroke-width="0.8"/>
<circle cx="453.95" cy="216.50" r="0.8" fill="#222"/>
<circle cx="451.45" cy="229.00" r="0.8" fill="#222"/>
<circle cx="453.95" cy="240.00" r="0.8" fill="#222"/>
<rect x="461.00" y="268.20" width="8.40" height="13.00" fill="#1d4f8f" stroke="rgba(0,0,0,0.25)" stroke-width="0.4"/>
<line x1="465.20" y1="261.90" x2="465.20" y2="268.20" stroke="#222" stroke-width="0.8"/>
<line x1="463.80" y1="261.90" x2="466.60" y2="261.90" stroke="#222" stroke-width="0.8"/>
<circle cx="465.20" cy="261.90" r="0.8" fill="#222"/>
<text x="430.00" y="226.23" font-size="6.6" fill="#222" text-anchor="middle" stroke="#222" stroke-width="0.15">*</text>
<text x="460.40" y="226.23" font-size="6.6" fill="#222" text-anchor="middle" stroke="#222" stroke-width="0.15">**</text>
<text x="430.00" y="291.32" font-size="7.0" fill="#222" text-anchor="middle" stroke="#222" stroke-width="0.2">T cells</text>
<text x="459.20" y="291.32" font-size="7.0" fill="#222" text-anchor="middle" stroke="#222" stroke-width="0.2">NK cells</text>
<rect x="414.20" y="300.60" width="4.30" height="4.30" fill="#c20e38" stroke="none" stroke-width="0"/>
<g transform="translate(421.90 305.00) scale(0.875 1)"><text x="0" y="0" font-size="6.4" fill="#333" stroke="#333" stroke-width="0.2">sh<tspan font-style="italic">Luc</tspan></text></g>
<rect x="443.50" y="300.60" width="4.30" height="4.30" fill="#1b427e" stroke="none" stroke-width="0"/>
<g transform="translate(451.90 305.00) scale(0.875 1)"><text x="0" y="0" font-size="6.4" fill="#333" stroke="#333" stroke-width="0.2">sh<tspan font-style="italic">Ccnd1</tspan></text></g>
<text x="0.50" y="343.00" font-size="12" fill="#000" font-weight="bold" stroke="#000" stroke-width="0.5">G</text>
<line x1="58.50" y1="352.50" x2="58.50" y2="423.70" stroke="#1a1a1a" stroke-width="1.3"/>
<line x1="58.00" y1="423.20" x2="140.60" y2="423.20" stroke="#1a1a1a" stroke-width="1.3"/>
<line x1="55.50" y1="423.20" x2="58.50" y2="423.20" stroke="#1a1a1a" stroke-width="0.9"/>
<text x="51.40" y="425.72" font-size="7.0" fill="#222" text-anchor="end" stroke="#222" stroke-width="0.2">0</text>
<line x1="55.50" y1="400.60" x2="58.50" y2="400.60" stroke="#1a1a1a" stroke-width="0.9"/>
<text x="51.40" y="403.12" font-size="7.0" fill="#222" text-anchor="end" stroke="#222" stroke-width="0.2">0.5</text>
<line x1="55.50" y1="378.00" x2="58.50" y2="378.00" stroke="#1a1a1a" stroke-width="0.9"/>
<text x="51.40" y="380.52" font-size="7.0" fill="#222" text-anchor="end" stroke="#222" stroke-width="0.2">1</text>
<line x1="55.50" y1="355.40" x2="58.50" y2="355.40" stroke="#1a1a1a" stroke-width="0.9"/>
<text x="51.40" y="357.92" font-size="7.0" fill="#222" text-anchor="end" stroke="#222" stroke-width="0.2">1.5</text>
<text x="26.10" y="387.50" font-size="8.6" fill="#222" text-anchor="middle" textLength="55" lengthAdjust="spacingAndGlyphs" transform="rotate(-90 26.10 387.50)" stroke="#222" stroke-width="0.32">Relative expression</text>
<text x="37.20" y="387.00" font-size="8.6" fill="#222" text-anchor="middle" textLength="26" lengthAdjust="spacingAndGlyphs" transform="rotate(-90 37.20 387.00)" stroke="#222" stroke-width="0.32">(/<tspan font-style="italic">Gapdh</tspan>)</text>
<rect x="62.80" y="377.90" width="7.80" height="45.30" fill="#cc0c38" stroke="rgba(0,0,0,0.25)" stroke-width="0.4"/>
<line x1="66.70" y1="361.40" x2="66.70" y2="377.90" stroke="#222" stroke-width="0.8"/>
<line x1="65.30" y1="361.40" x2="68.10" y2="361.40" stroke="#222" stroke-width="0.8"/>
<circle cx="66.70" cy="357.00" r="0.8" fill="#222"/>
<circle cx="64.20" cy="371.50" r="0.8" fill="#222"/>
<circle cx="66.70" cy="380.00" r="0.8" fill="#222"/>
<rect x="73.70" y="413.00" width="7.60" height="10.20" fill="#1d4f8f" stroke="rgba(0,0,0,0.25)" stroke-width="0.4"/>
<line x1="77.50" y1="406.40" x2="77.50" y2="413.00" stroke="#222" stroke-width="0.8"/>
<line x1="76.10" y1="406.40" x2="78.90" y2="406.40" stroke="#222" stroke-width="0.8"/>
<circle cx="79.50" cy="407.50" r="0.8" fill="#222"/>
<circle cx="76.50" cy="412.00" r="0.8" fill="#222"/>
<rect x="90.10" y="377.90" width="7.80" height="45.30" fill="#cc0c38" stroke="rgba(0,0,0,0.25)" stroke-width="0.4"/>
<line x1="94.00" y1="365.80" x2="94.00" y2="377.90" stroke="#222" stroke-width="0.8"/>
<line x1="92.60" y1="365.80" x2="95.40" y2="365.80" stroke="#222" stroke-width="0.8"/>
<circle cx="94.00" cy="368.00" r="0.8" fill="#222"/>
<circle cx="94.00" cy="378.00" r="0.8" fill="#222"/>
<rect x="100.80" y="418.50" width="8.20" height="4.70" fill="#1d4f8f" stroke="rgba(0,0,0,0.25)" stroke-width="0.4"/>
<line x1="104.90" y1="416.00" x2="104.90" y2="418.50" stroke="#222" stroke-width="0.8"/>
<line x1="103.50" y1="416.00" x2="106.30" y2="416.00" stroke="#222" stroke-width="0.8"/>
<circle cx="104.90" cy="416.00" r="0.8" fill="#222"/>
<rect x="118.10" y="377.90" width="7.80" height="45.30" fill="#cc0c38" stroke="rgba(0,0,0,0.25)" stroke-width="0.4"/>
<line x1="122.00" y1="365.40" x2="122.00" y2="377.90" stroke="#222" stroke-width="0.8"/>
<line x1="120.60" y1="365.40" x2="123.40" y2="365.40" stroke="#222" stroke-width="0.8"/>
<circle cx="122.00" cy="365.50" r="0.8" fill="#222"/>
<circle cx="124.50" cy="372.00" r="0.8" fill="#222"/>
<rect x="129.00" y="414.20" width="7.70" height="9.00" fill="#1d4f8f" stroke="rgba(0,0,0,0.25)" stroke-width="0.4"/>
<line x1="132.85" y1="411.00" x2="132.85" y2="414.20" stroke="#222" stroke-width="0.8"/>
<line x1="131.45" y1="411.00" x2="134.25" y2="411.00" stroke="#222" stroke-width="0.8"/>
<circle cx="133.85" cy="412.00" r="0.8" fill="#222"/>
<text x="72.30" y="360.63" font-size="6.6" fill="#222" text-anchor="middle" stroke="#222" stroke-width="0.15">*</text>
<text x="99.10" y="360.63" font-size="6.6" fill="#222" text-anchor="middle" stroke="#222" stroke-width="0.15">**</text>
<text x="126.80" y="360.63" font-size="6.6" fill="#222" text-anchor="middle" stroke="#222" stroke-width="0.15">**</text>
<text x="72.30" y="433.46" font-size="7.4" fill="#222" text-anchor="middle" font-style="italic" stroke="#222" stroke-width="0.2">Ccl2</text>
<text x="99.80" y="433.46" font-size="7.4" fill="#222" text-anchor="middle" font-style="italic" stroke="#222" stroke-width="0.2">Ccl4</text>
<text x="127.70" y="433.46" font-size="7.4" fill="#222" text-anchor="middle" font-style="italic" stroke="#222" stroke-width="0.2">Ccl5</text>
<rect x="69.50" y="442.10" width="4.20" height="4.20" fill="#c20e38" stroke="none" stroke-width="0"/>
<g transform="translate(76.90 446.50) scale(0.875 1)"><text x="0" y="0" font-size="6.4" fill="#333" font-style="italic" stroke="#333" stroke-width="0.2">sh<tspan font-style="italic">Luc</tspan></text></g>
<rect x="99.60" y="442.10" width="4.20" height="4.20" fill="#1b427e" stroke="none" stroke-width="0"/>
<g transform="translate(106.90 446.50) scale(0.875 1)"><text x="0" y="0" font-size="6.4" fill="#333" font-style="italic" stroke="#333" stroke-width="0.2">sh<tspan font-style="italic">Ccnd1</tspan></text></g>
<text x="180.00" y="343.00" font-size="12" fill="#000" font-weight="bold" stroke="#000" stroke-width="0.5">H</text>
<path d="M238.30,357.00 L238.54,357.00 L238.54,362.12 L240.12,362.12 L240.12,365.00 L241.46,365.00 L241.46,369.80 L243.04,369.80 L243.04,374.28 L244.07,374.28 L244.07,380.68 L246.44,380.68 L246.44,383.24 L247.23,383.24 L247.23,390.92 L248.10,390.92 L248.10,398.60 L249.28,398.60 L249.28,401.80 L250.47,401.80 L250.47,404.36 L252.12,404.36 L252.12,406.92 L254.50,406.92 L254.50,410.12 L255.13,410.12 L255.13,412.87 L279.30,412.87" fill="none" stroke="#e8889f" stroke-width="1.0"/>
<line x1="256.47" y1="411.97" x2="256.47" y2="413.77" stroke="#e8889f" stroke-width="0.6"/>
<line x1="260.42" y1="411.97" x2="260.42" y2="413.77" stroke="#e8889f" stroke-width="0.6"/>
<line x1="265.16" y1="411.97" x2="265.16" y2="413.77" stroke="#e8889f" stroke-width="0.6"/>
<line x1="269.90" y1="411.97" x2="269.90" y2="413.77" stroke="#e8889f" stroke-width="0.6"/>
<line x1="274.64" y1="411.97" x2="274.64" y2="413.77" stroke="#e8889f" stroke-width="0.6"/>
<line x1="278.99" y1="411.97" x2="278.99" y2="413.77" stroke="#e8889f" stroke-width="0.6"/>
<path d="M238.30,357.00 L238.70,357.00 L238.70,361.48 L240.28,361.48 L240.28,365.32 L241.86,365.32 L241.86,367.24 L242.96,367.24 L242.96,369.16 L244.23,369.16 L244.23,373.64 L245.41,373.64 L245.41,376.84 L246.44,376.84 L246.44,380.04 L247.62,380.04 L247.62,381.96 L248.73,381.96 L248.73,383.88 L250.15,383.88 L250.15,385.80 L251.73,385.80 L251.73,387.72 L253.31,387.72 L253.31,389.64 L254.89,389.64 L254.89,390.92 L256.79,390.92 L256.79,392.84 L258.21,392.84 L258.21,394.76 L259.71,394.76 L259.71,396.04 L260.58,396.04 L260.58,397.96 L261.37,397.96 L261.37,399.24 L262.79,399.24 L262.79,399.88 L264.29,399.88 L264.29,400.52 L275.27,400.52 L275.27,403.08 L277.80,403.08 L277.80,403.72 L279.93,403.72 L279.93,404.36 L281.75,404.36 L281.75,405.32 L283.33,405.32 L283.33,406.28 L312.56,406.28" fill="none" stroke="#1d5a80" stroke-width="1.3"/>
<line x1="266.74" y1="399.62" x2="266.74" y2="401.42" stroke="#1d5a80" stroke-width="0.6"/>
<line x1="269.11" y1="399.62" x2="269.11" y2="401.42" stroke="#1d5a80" stroke-width="0.6"/>
<line x1="271.48" y1="399.62" x2="271.48" y2="401.42" stroke="#1d5a80" stroke-width="0.6"/>
<line x1="285.70" y1="405.38" x2="285.70" y2="407.18" stroke="#1d5a80" stroke-width="0.6"/>
<line x1="288.86" y1="405.38" x2="288.86" y2="407.18" stroke="#1d5a80" stroke-width="0.6"/>
<line x1="292.02" y1="405.38" x2="292.02" y2="407.18" stroke="#1d5a80" stroke-width="0.6"/>
<line x1="295.18" y1="405.38" x2="295.18" y2="407.18" stroke="#1d5a80" stroke-width="0.6"/>
<line x1="298.34" y1="405.38" x2="298.34" y2="407.18" stroke="#1d5a80" stroke-width="0.6"/>
<line x1="301.50" y1="405.38" x2="301.50" y2="407.18" stroke="#1d5a80" stroke-width="0.6"/>
<line x1="306.24" y1="405.38" x2="306.24" y2="407.18" stroke="#1d5a80" stroke-width="0.6"/>
<line x1="310.98" y1="405.38" x2="310.98" y2="407.18" stroke="#1d5a80" stroke-width="0.6"/>
<line x1="235.80" y1="354.60" x2="235.80" y2="423.70" stroke="#1a1a1a" stroke-width="1.3"/>
<line x1="235.30" y1="423.20" x2="314.00" y2="423.20" stroke="#1a1a1a" stroke-width="1.3"/>
<line x1="232.80" y1="421.00" x2="235.80" y2="421.00" stroke="#1a1a1a" stroke-width="0.9"/>
<text x="229.60" y="423.52" font-size="7.0" fill="#222" text-anchor="end" stroke="#222" stroke-width="0.2">0.0</text>
<line x1="232.80" y1="408.20" x2="235.80" y2="408.20" stroke="#1a1a1a" stroke-width="0.9"/>
<text x="229.60" y="410.72" font-size="7.0" fill="#222" text-anchor="end" stroke="#222" stroke-width="0.2">0.2</text>
<line x1="232.80" y1="395.40" x2="235.80" y2="395.40" stroke="#1a1a1a" stroke-width="0.9"/>
<text x="229.60" y="397.92" font-size="7.0" fill="#222" text-anchor="end" stroke="#222" stroke-width="0.2">0.4</text>
<line x1="232.80" y1="382.60" x2="235.80" y2="382.60" stroke="#1a1a1a" stroke-width="0.9"/>
<text x="229.60" y="385.12" font-size="7.0" fill="#222" text-anchor="end" stroke="#222" stroke-width="0.2">0.6</text>
<line x1="232.80" y1="369.80" x2="235.80" y2="369.80" stroke="#1a1a1a" stroke-width="0.9"/>
<text x="229.60" y="372.32" font-size="7.0" fill="#222" text-anchor="end" stroke="#222" stroke-width="0.2">0.8</text>
<line x1="232.80" y1="357.00" x2="235.80" y2="357.00" stroke="#1a1a1a" stroke-width="0.9"/>
<text x="229.60" y="359.52" font-size="7.0" fill="#222" text-anchor="end" stroke="#222" stroke-width="0.2">1.0</text>
<line x1="238.30" y1="423.20" x2="238.30" y2="426.20" stroke="#1a1a1a" stroke-width="0.9"/>
<text x="238.30" y="436.82" font-size="7.0" fill="#222" text-anchor="middle" stroke="#222" stroke-width="0.2">0</text>
<line x1="254.10" y1="423.20" x2="254.10" y2="426.20" stroke="#1a1a1a" stroke-width="0.9"/>
<text x="254.10" y="436.82" font-size="7.0" fill="#222" text-anchor="middle" stroke="#222" stroke-width="0.2">20</text>
<line x1="269.90" y1="423.20" x2="269.90" y2="426.20" stroke="#1a1a1a" stroke-width="0.9"/>
<text x="269.90" y="436.82" font-size="7.0" fill="#222" text-anchor="middle" stroke="#222" stroke-width="0.2">40</text>
<line x1="285.70" y1="423.20" x2="285.70" y2="426.20" stroke="#1a1a1a" stroke-width="0.9"/>
<text x="285.70" y="436.82" font-size="7.0" fill="#222" text-anchor="middle" stroke="#222" stroke-width="0.2">60</text>
<line x1="301.50" y1="423.20" x2="301.50" y2="426.20" stroke="#1a1a1a" stroke-width="0.9"/>
<text x="301.50" y="436.82" font-size="7.0" fill="#222" text-anchor="middle" stroke="#222" stroke-width="0.2">80</text>
<text x="213.97" y="388.60" font-size="8.8" fill="#222" text-anchor="middle" textLength="42.5" lengthAdjust="spacingAndGlyphs" transform="rotate(-90 213.97 388.60)" stroke="#222" stroke-width="0.32">Overall survival</text>
<g transform="translate(292.75 374.83) scale(0.9231610379778777 1)"><text x="0" y="0" font-size="6.2" fill="#333" text-anchor="middle" stroke="#333" stroke-width="0.2"><tspan font-style="italic">CCL4</tspan> expression</text></g>
<line x1="283.50" y1="382.10" x2="287.20" y2="382.10" stroke="#1d5a80" stroke-width="1"/>
<text x="290.60" y="384.27" font-size="6.3" fill="#333" stroke="#333" stroke-width="0.2">Low</text>
<line x1="283.50" y1="392.00" x2="287.20" y2="392.00" stroke="#e8889f" stroke-width="1"/>
<text x="290.60" y="394.27" font-size="6.3" fill="#333" stroke="#333" stroke-width="0.2">High</text>
<g transform="translate(311.60 421.37) scale(0.9356773616845416 1)"><text x="0" y="0" font-size="6.3" fill="#333" text-anchor="end" stroke="#333" stroke-width="0.2"><tspan font-style="italic">P</tspan> = .0322</text></g>
<text x="275.00" y="449.34" font-size="9" fill="#222" text-anchor="middle" textLength="21.2" lengthAdjust="spacingAndGlyphs" stroke="#222" stroke-width="0.32">Months</text>
<text x="236.00" y="460.92" font-size="7.0" fill="#222" textLength="31.7" lengthAdjust="spacingAndGlyphs" stroke="#222" stroke-width="0.2">Number at risk</text>
<text x="215.20" y="471.85" font-size="6.8" fill="#333" stroke="#333" stroke-width="0.2">Low</text>
<text x="215.20" y="483.05" font-size="6.8" fill="#333" stroke="#333" stroke-width="0.2">High</text>
<text x="239.10" y="471.85" font-size="6.8" fill="#333" text-anchor="middle" stroke="#333" stroke-width="0.2">147</text>
<text x="239.10" y="483.05" font-size="6.8" fill="#333" text-anchor="middle" stroke="#333" stroke-width="0.2">16</text>
<text x="254.30" y="471.85" font-size="6.8" fill="#333" text-anchor="middle" stroke="#333" stroke-width="0.2">52</text>
<text x="254.30" y="483.05" font-size="6.8" fill="#333" text-anchor="middle" stroke="#333" stroke-width="0.2">2</text>
<text x="269.80" y="471.85" font-size="6.8" fill="#333" text-anchor="middle" stroke="#333" stroke-width="0.2">23</text>
<text x="269.80" y="483.05" font-size="6.8" fill="#333" text-anchor="middle" stroke="#333" stroke-width="0.2">1</text>
<text x="285.60" y="471.85" font-size="6.8" fill="#333" text-anchor="middle" stroke="#333" stroke-width="0.2">7</text>
<text x="285.60" y="483.05" font-size="6.8" fill="#333" text-anchor="middle" stroke="#333" stroke-width="0.2">0</text>
<text x="301.00" y="471.85" font-size="6.8" fill="#333" text-anchor="middle" stroke="#333" stroke-width="0.2">2</text>
<text x="301.00" y="483.05" font-size="6.8" fill="#333" text-anchor="middle" stroke="#333" stroke-width="0.2">0</text>
<text x="355.70" y="342.90" font-size="12" fill="#000" font-weight="bold" stroke="#000" stroke-width="0.5">I</text>
<path d="M417.80,354.10 L418.99,354.10 L418.99,358.76 L420.09,358.76 L420.09,363.62 L421.36,363.62 L421.36,366.09 L422.54,366.09 L422.54,368.75 L423.49,368.75 L423.49,371.08 L424.67,371.08 L424.67,378.01 L425.78,378.01 L425.78,384.87 L426.88,384.87 L426.88,388.73 L428.07,388.73 L428.07,391.80 L430.44,391.80 L430.44,394.06 L431.62,394.06 L431.62,396.72 L432.81,396.72 L432.81,398.79 L434.39,398.79 L434.39,400.05 L436.21,400.05 L436.21,401.59 L438.34,401.59 L438.34,403.38 L440.31,403.38 L440.31,405.12 L455.32,405.12 L455.32,408.58 L462.83,408.58 L462.83,411.38 L482.58,411.38" fill="none" stroke="#e8889f" stroke-width="1.0"/>
<circle cx="421.36" cy="366.09" r="0.75" fill="#a8284a"/>
<circle cx="424.12" cy="371.42" r="0.75" fill="#a8284a"/>
<circle cx="427.28" cy="388.73" r="0.75" fill="#a8284a"/>
<circle cx="429.65" cy="392.06" r="0.75" fill="#a8284a"/>
<circle cx="434.79" cy="400.05" r="0.75" fill="#a8284a"/>
<circle cx="443.87" cy="405.12" r="0.75" fill="#a8284a"/>
<circle cx="447.03" cy="405.12" r="0.75" fill="#a8284a"/>
<circle cx="450.19" cy="405.12" r="0.75" fill="#a8284a"/>
<circle cx="452.56" cy="405.12" r="0.75" fill="#a8284a"/>
<circle cx="457.30" cy="408.58" r="0.75" fill="#a8284a"/>
<circle cx="459.67" cy="408.58" r="0.75" fill="#a8284a"/>
<circle cx="465.20" cy="411.38" r="0.75" fill="#a8284a"/>
<circle cx="482.58" cy="411.38" r="0.75" fill="#a8284a"/>
<path d="M417.80,354.10 L418.99,354.10 L418.99,358.76 L420.09,358.76 L420.09,363.02 L421.75,363.02 L421.75,366.75 L423.49,366.75 L423.49,369.88 L425.78,369.88 L425.78,373.41 L427.28,373.41 L427.28,374.75 L429.25,374.75 L429.25,376.28 L431.55,376.28 L431.55,379.07 L433.28,379.07 L433.28,382.60 L436.76,382.60 L436.76,383.74 L438.50,383.74 L438.50,388.40 L440.31,388.40 L440.31,391.80 L441.50,391.80 L441.50,394.06 L443.08,394.06 L443.08,395.92 L454.69,395.92 L454.69,398.19 L459.28,398.19 L459.28,398.79 L461.01,398.79 L461.01,401.32 L492.85,401.32" fill="none" stroke="#1d5a80" stroke-width="1.3"/>
<line x1="447.82" y1="395.02" x2="447.82" y2="396.82" stroke="#1d5a80" stroke-width="0.6"/>
<line x1="450.98" y1="395.02" x2="450.98" y2="396.82" stroke="#1d5a80" stroke-width="0.6"/>
<line x1="465.20" y1="400.42" x2="465.20" y2="402.22" stroke="#1d5a80" stroke-width="0.6"/>
<line x1="473.10" y1="400.42" x2="473.10" y2="402.22" stroke="#1d5a80" stroke-width="0.6"/>
<line x1="484.95" y1="400.42" x2="484.95" y2="402.22" stroke="#1d5a80" stroke-width="0.6"/>
<line x1="414.90" y1="351.30" x2="414.90" y2="423.90" stroke="#1a1a1a" stroke-width="1.3"/>
<line x1="414.40" y1="423.40" x2="494.80" y2="423.40" stroke="#1a1a1a" stroke-width="1.3"/>
<line x1="411.90" y1="420.70" x2="414.90" y2="420.70" stroke="#1a1a1a" stroke-width="0.9"/>
<text x="408.60" y="423.22" font-size="7.0" fill="#222" text-anchor="end" stroke="#222" stroke-width="0.2">0.0</text>
<line x1="411.90" y1="407.38" x2="414.90" y2="407.38" stroke="#1a1a1a" stroke-width="0.9"/>
<text x="408.60" y="409.90" font-size="7.0" fill="#222" text-anchor="end" stroke="#222" stroke-width="0.2">0.2</text>
<line x1="411.90" y1="394.06" x2="414.90" y2="394.06" stroke="#1a1a1a" stroke-width="0.9"/>
<text x="408.60" y="396.58" font-size="7.0" fill="#222" text-anchor="end" stroke="#222" stroke-width="0.2">0.4</text>
<line x1="411.90" y1="380.74" x2="414.90" y2="380.74" stroke="#1a1a1a" stroke-width="0.9"/>
<text x="408.60" y="383.26" font-size="7.0" fill="#222" text-anchor="end" stroke="#222" stroke-width="0.2">0.6</text>
<line x1="411.90" y1="367.42" x2="414.90" y2="367.42" stroke="#1a1a1a" stroke-width="0.9"/>
<text x="408.60" y="369.94" font-size="7.0" fill="#222" text-anchor="end" stroke="#222" stroke-width="0.2">0.8</text>
<line x1="411.90" y1="354.10" x2="414.90" y2="354.10" stroke="#1a1a1a" stroke-width="0.9"/>
<text x="408.60" y="356.62" font-size="7.0" fill="#222" text-anchor="end" stroke="#222" stroke-width="0.2">1.0</text>
<line x1="417.80" y1="423.40" x2="417.80" y2="426.40" stroke="#1a1a1a" stroke-width="0.9"/>
<text x="417.80" y="436.82" font-size="7.0" fill="#222" text-anchor="middle" stroke="#222" stroke-width="0.2">0</text>
<line x1="433.60" y1="423.40" x2="433.60" y2="426.40" stroke="#1a1a1a" stroke-width="0.9"/>
<text x="433.60" y="436.82" font-size="7.0" fill="#222" text-anchor="middle" stroke="#222" stroke-width="0.2">20</text>
<line x1="449.40" y1="423.40" x2="449.40" y2="426.40" stroke="#1a1a1a" stroke-width="0.9"/>
<text x="449.40" y="436.82" font-size="7.0" fill="#222" text-anchor="middle" stroke="#222" stroke-width="0.2">40</text>
<line x1="465.20" y1="423.40" x2="465.20" y2="426.40" stroke="#1a1a1a" stroke-width="0.9"/>
<text x="465.20" y="436.82" font-size="7.0" fill="#222" text-anchor="middle" stroke="#222" stroke-width="0.2">60</text>
<line x1="481.00" y1="423.40" x2="481.00" y2="426.40" stroke="#1a1a1a" stroke-width="0.9"/>
<text x="481.00" y="436.82" font-size="7.0" fill="#222" text-anchor="middle" stroke="#222" stroke-width="0.2">80</text>
<text x="392.27" y="387.00" font-size="8.8" fill="#222" text-anchor="middle" textLength="42.4" lengthAdjust="spacingAndGlyphs" transform="rotate(-90 392.27 387.00)" stroke="#222" stroke-width="0.32">Overall survival</text>
<g transform="translate(471.05 368.83) scale(0.9105438028346721 1)"><text x="0" y="0" font-size="6.2" fill="#333" text-anchor="middle" stroke="#333" stroke-width="0.2"><tspan font-style="italic">CCL5</tspan> expression</text></g>
<line x1="462.20" y1="376.50" x2="465.00" y2="376.50" stroke="#1d5a80" stroke-width="1"/>
<text x="468.80" y="378.77" font-size="6.3" fill="#333" stroke="#333" stroke-width="0.2">Low</text>
<line x1="462.20" y1="386.20" x2="465.00" y2="386.20" stroke="#e8889f" stroke-width="1"/>
<text x="468.80" y="388.47" font-size="6.3" fill="#333" stroke="#333" stroke-width="0.2">High</text>
<g transform="translate(486.10 419.07) scale(0.9246260542630708 1)"><text x="0" y="0" font-size="6.3" fill="#333" text-anchor="end" stroke="#333" stroke-width="0.2"><tspan font-style="italic">P</tspan> = .0169</text></g>
<text x="455.00" y="448.94" font-size="9" fill="#222" text-anchor="middle" textLength="21.1" lengthAdjust="spacingAndGlyphs" stroke="#222" stroke-width="0.32">Months</text>
<text x="414.90" y="460.00" font-size="6.1" fill="#222" textLength="26.8" lengthAdjust="spacingAndGlyphs" stroke="#222" stroke-width="0.18">Number at risk</text>
<text x="396.50" y="469.86" font-size="6.0" fill="#333" stroke="#333" stroke-width="0.2">Low</text>
<text x="396.50" y="479.36" font-size="6.0" fill="#333" stroke="#333" stroke-width="0.2">High</text>
<text x="418.00" y="469.86" font-size="6.0" fill="#333" text-anchor="middle" stroke="#333" stroke-width="0.2">82</text>
<text x="418.00" y="479.36" font-size="6.0" fill="#333" text-anchor="middle" stroke="#333" stroke-width="0.2">81</text>
<text x="433.50" y="469.86" font-size="6.0" fill="#333" text-anchor="middle" stroke="#333" stroke-width="0.2">34</text>
<text x="433.50" y="479.36" font-size="6.0" fill="#333" text-anchor="middle" stroke="#333" stroke-width="0.2">20</text>
<text x="449.30" y="469.86" font-size="6.0" fill="#333" text-anchor="middle" stroke="#333" stroke-width="0.2">14</text>
<text x="449.30" y="479.36" font-size="6.0" fill="#333" text-anchor="middle" stroke="#333" stroke-width="0.2">10</text>
<text x="465.00" y="469.86" font-size="6.0" fill="#333" text-anchor="middle" stroke="#333" stroke-width="0.2">5</text>
<text x="465.00" y="479.36" font-size="6.0" fill="#333" text-anchor="middle" stroke="#333" stroke-width="0.2">2</text>
<text x="480.80" y="469.86" font-size="6.0" fill="#333" text-anchor="middle" stroke="#333" stroke-width="0.2">1</text>
<text x="480.80" y="479.36" font-size="6.0" fill="#333" text-anchor="middle" stroke="#333" stroke-width="0.2">1</text>
<text x="-2.00" y="512.50" font-size="12" fill="#000" font-weight="bold" stroke="#000" stroke-width="0.5">J</text>
<line x1="58.40" y1="520.00" x2="58.40" y2="605.10" stroke="#1a1a1a" stroke-width="1.3"/>
<line x1="57.90" y1="604.60" x2="151.80" y2="604.60" stroke="#1a1a1a" stroke-width="1.3"/>
<line x1="55.40" y1="591.80" x2="58.40" y2="591.80" stroke="#1a1a1a" stroke-width="0.9"/>
<text x="51.60" y="594.32" font-size="7.0" fill="#222" text-anchor="end" stroke="#222" stroke-width="0.2">0</text>
<line x1="55.40" y1="576.20" x2="58.40" y2="576.20" stroke="#1a1a1a" stroke-width="0.9"/>
<text x="51.60" y="578.72" font-size="7.0" fill="#222" text-anchor="end" stroke="#222" stroke-width="0.2">2</text>
<line x1="55.40" y1="560.60" x2="58.40" y2="560.60" stroke="#1a1a1a" stroke-width="0.9"/>
<text x="51.60" y="563.12" font-size="7.0" fill="#222" text-anchor="end" stroke="#222" stroke-width="0.2">4</text>
<line x1="55.40" y1="545.00" x2="58.40" y2="545.00" stroke="#1a1a1a" stroke-width="0.9"/>
<text x="51.60" y="547.52" font-size="7.0" fill="#222" text-anchor="end" stroke="#222" stroke-width="0.2">6</text>
<line x1="55.40" y1="529.40" x2="58.40" y2="529.40" stroke="#1a1a1a" stroke-width="0.9"/>
<text x="51.60" y="531.92" font-size="7.0" fill="#222" text-anchor="end" stroke="#222" stroke-width="0.2">8</text>
<line x1="73.60" y1="604.60" x2="73.60" y2="607.60" stroke="#1a1a1a" stroke-width="0.9"/>
<text x="73.60" y="617.92" font-size="7.0" fill="#222" text-anchor="middle" stroke="#222" stroke-width="0.2">2</text>
<line x1="91.20" y1="604.60" x2="91.20" y2="607.60" stroke="#1a1a1a" stroke-width="0.9"/>
<text x="91.20" y="617.92" font-size="7.0" fill="#222" text-anchor="middle" stroke="#222" stroke-width="0.2">4</text>
<line x1="108.80" y1="604.60" x2="108.80" y2="607.60" stroke="#1a1a1a" stroke-width="0.9"/>
<text x="108.80" y="617.92" font-size="7.0" fill="#222" text-anchor="middle" stroke="#222" stroke-width="0.2">6</text>
<line x1="126.40" y1="604.60" x2="126.40" y2="607.60" stroke="#1a1a1a" stroke-width="0.9"/>
<text x="126.40" y="617.92" font-size="7.0" fill="#222" text-anchor="middle" stroke="#222" stroke-width="0.2">8</text>
<line x1="144.00" y1="604.60" x2="144.00" y2="607.60" stroke="#1a1a1a" stroke-width="0.9"/>
<text x="144.00" y="617.92" font-size="7.0" fill="#222" text-anchor="middle" stroke="#222" stroke-width="0.2">10</text>
<text x="41.70" y="562.80" font-size="8.6" fill="#222" text-anchor="middle" textLength="35.8" lengthAdjust="spacingAndGlyphs" transform="rotate(-90 41.70 562.80)" stroke="#222" stroke-width="0.4">LOG2_CCL4</text>
<text x="104.70" y="631.44" font-size="9.0" fill="#222" text-anchor="middle" textLength="40.2" lengthAdjust="spacingAndGlyphs" stroke="#222" stroke-width="0.3">LOG2_CCND1</text>
<text x="105.50" y="512.85" font-size="9.3" fill="#222" text-anchor="middle" stroke="#222" stroke-width="0.2">TCGA</text>
<circle cx="121.5" cy="529.5" r="0.68" fill="#c8406c" fill-opacity="0.95"/>
<circle cx="101.1" cy="558.1" r="0.68" fill="#c8406c" fill-opacity="0.95"/>
<circle cx="81.7" cy="552.6" r="0.68" fill="#c8406c" fill-opacity="0.95"/>
<circle cx="82.9" cy="569.0" r="0.68" fill="#c8406c" fill-opacity="0.95"/>
<circle cx="103.3" cy="547.6" r="0.68" fill="#c8406c" fill-opacity="0.95"/>
<circle cx="109.1" cy="558.4" r="0.68" fill="#c8406c" fill-opacity="0.95"/>
<circle cx="100.1" cy="550.4" r="0.68" fill="#c8406c" fill-opacity="0.95"/>
<circle cx="74.8" cy="548.1" r="0.68" fill="#c8406c" fill-opacity="0.95"/>
<circle cx="105.4" cy="523.2" r="0.68" fill="#c8406c" fill-opacity="0.95"/>
<circle cx="103.4" cy="550.7" r="0.68" fill="#c8406c" fill-opacity="0.95"/>
<circle cx="120.6" cy="543.8" r="0.68" fill="#c8406c" fill-opacity="0.95"/>
<circle cx="115.2" cy="551.1" r="0.68" fill="#c8406c" fill-opacity="0.95"/>
<circle cx="103.6" cy="537.4" r="0.68" fill="#c8406c" fill-opacity="0.95"/>
<circle cx="111.6" cy="546.2" r="0.68" fill="#c8406c" fill-opacity="0.95"/>
<circle cx="81.9" cy="547.9" r="0.68" fill="#c8406c" fill-opacity="0.95"/>
<circle cx="101.3" cy="541.3" r="0.68" fill="#c8406c" fill-opacity="0.95"/>
<circle cx="103.6" cy="536.7" r="0.68" fill="#c8406c" fill-opacity="0.95"/>
<circle cx="99.1" cy="547.5" r="0.68" fill="#c8406c" fill-opacity="0.95"/>
<circle cx="111.1" cy="560.0" r="0.68" fill="#c8406c" fill-opacity="0.95"/>
<circle cx="93.3" cy="556.5" r="0.68" fill="#c8406c" fill-opacity="0.95"/>
<circle cx="133.1" cy="544.9" r="0.68" fill="#c8406c" fill-opacity="0.95"/>
<circle cx="110.9" cy="540.7" r="0.68" fill="#c8406c" fill-opacity="0.95"/>
<circle cx="95.3" cy="568.1" r="0.68" fill="#c8406c" fill-opacity="0.95"/>
<circle cx="116.1" cy="551.4" r="0.68" fill="#c8406c" fill-opacity="0.95"/>
<circle cx="112.0" cy="562.3" r="0.68" fill="#c8406c" fill-opacity="0.95"/>
<circle cx="92.7" cy="536.8" r="0.68" fill="#c8406c" fill-opacity="0.95"/>
<circle cx="123.9" cy="560.2" r="0.68" fill="#c8406c" fill-opacity="0.95"/>
<circle cx="77.7" cy="554.1" r="0.68" fill="#c8406c" fill-opacity="0.95"/>
<circle cx="112.2" cy="545.7" r="0.68" fill="#c8406c" fill-opacity="0.95"/>
<circle cx="105.1" cy="560.0" r="0.68" fill="#c8406c" fill-opacity="0.95"/>
<circle cx="109.8" cy="535.3" r="0.68" fill="#c8406c" fill-opacity="0.95"/>
<circle cx="92.7" cy="567.2" r="0.68" fill="#c8406c" fill-opacity="0.95"/>
<circle cx="87.3" cy="543.3" r="0.68" fill="#c8406c" fill-opacity="0.95"/>
<circle cx="71.0" cy="555.9" r="0.68" fill="#c8406c" fill-opacity="0.95"/>
<circle cx="83.4" cy="554.1" r="0.68" fill="#c8406c" fill-opacity="0.95"/>
<circle cx="95.9" cy="550.2" r="0.68" fill="#c8406c" fill-opacity="0.95"/>
<circle cx="125.1" cy="540.5" r="0.68" fill="#c8406c" fill-opacity="0.95"/>
<circle cx="122.3" cy="547.3" r="0.68" fill="#c8406c" fill-opacity="0.95"/>
<circle cx="92.0" cy="546.8" r="0.68" fill="#c8406c" fill-opacity="0.95"/>
<circle cx="62.2" cy="558.5" r="0.68" fill="#c8406c" fill-opacity="0.95"/>
<circle cx="102.7" cy="563.2" r="0.68" fill="#c8406c" fill-opacity="0.95"/>
<circle cx="107.8" cy="554.6" r="0.68" fill="#c8406c" fill-opacity="0.95"/>
<circle cx="62.2" cy="559.4" r="0.68" fill="#c8406c" fill-opacity="0.95"/>
<circle cx="83.6" cy="558.5" r="0.68" fill="#c8406c" fill-opacity="0.95"/>
<circle cx="97.5" cy="536.0" r="0.68" fill="#c8406c" fill-opacity="0.95"/>
<circle cx="101.7" cy="549.7" r="0.68" fill="#c8406c" fill-opacity="0.95"/>
<circle cx="106.5" cy="569.0" r="0.68" fill="#c8406c" fill-opacity="0.95"/>
<circle cx="120.7" cy="558.2" r="0.68" fill="#c8406c" fill-opacity="0.95"/>
<circle cx="107.3" cy="561.1" r="0.68" fill="#c8406c" fill-opacity="0.95"/>
<circle cx="83.7" cy="557.1" r="0.68" fill="#c8406c" fill-opacity="0.95"/>
<circle cx="131.7" cy="536.2" r="0.68" fill="#c8406c" fill-opacity="0.95"/>
<circle cx="89.9" cy="554.7" r="0.68" fill="#c8406c" fill-opacity="0.95"/>
<circle cx="80.7" cy="553.5" r="0.68" fill="#c8406c" fill-opacity="0.95"/>
<circle cx="90.4" cy="543.2" r="0.68" fill="#c8406c" fill-opacity="0.95"/>
<circle cx="77.3" cy="557.5" r="0.68" fill="#c8406c" fill-opacity="0.95"/>
<circle cx="85.9" cy="560.3" r="0.68" fill="#c8406c" fill-opacity="0.95"/>
<circle cx="111.9" cy="546.1" r="0.68" fill="#c8406c" fill-opacity="0.95"/>
<circle cx="109.8" cy="534.5" r="0.68" fill="#c8406c" fill-opacity="0.95"/>
<circle cx="119.2" cy="561.8" r="0.68" fill="#c8406c" fill-opacity="0.95"/>
<circle cx="109.0" cy="568.0" r="0.68" fill="#c8406c" fill-opacity="0.95"/>
<circle cx="98.9" cy="528.2" r="0.68" fill="#c8406c" fill-opacity="0.95"/>
<circle cx="96.8" cy="554.4" r="0.68" fill="#c8406c" fill-opacity="0.95"/>
<circle cx="102.8" cy="549.0" r="0.68" fill="#c8406c" fill-opacity="0.95"/>
<circle cx="100.4" cy="558.2" r="0.68" fill="#c8406c" fill-opacity="0.95"/>
<circle cx="118.1" cy="536.4" r="0.68" fill="#c8406c" fill-opacity="0.95"/>
<circle cx="96.5" cy="546.7" r="0.68" fill="#c8406c" fill-opacity="0.95"/>
<circle cx="111.0" cy="536.1" r="0.68" fill="#c8406c" fill-opacity="0.95"/>
<circle cx="106.6" cy="540.7" r="0.68" fill="#c8406c" fill-opacity="0.95"/>
<circle cx="95.6" cy="562.6" r="0.68" fill="#c8406c" fill-opacity="0.95"/>
<circle cx="91.7" cy="539.6" r="0.68" fill="#c8406c" fill-opacity="0.95"/>
<circle cx="116.3" cy="545.1" r="0.68" fill="#c8406c" fill-opacity="0.95"/>
<circle cx="90.5" cy="547.9" r="0.68" fill="#c8406c" fill-opacity="0.95"/>
<circle cx="127.8" cy="529.4" r="0.68" fill="#c8406c" fill-opacity="0.95"/>
<circle cx="88.6" cy="552.2" r="0.68" fill="#c8406c" fill-opacity="0.95"/>
<circle cx="75.7" cy="566.8" r="0.68" fill="#c8406c" fill-opacity="0.95"/>
<circle cx="103.1" cy="548.8" r="0.68" fill="#c8406c" fill-opacity="0.95"/>
<circle cx="116.1" cy="532.5" r="0.68" fill="#c8406c" fill-opacity="0.95"/>
<circle cx="114.0" cy="532.3" r="0.68" fill="#c8406c" fill-opacity="0.95"/>
<circle cx="90.9" cy="564.1" r="0.68" fill="#c8406c" fill-opacity="0.95"/>
<circle cx="108.4" cy="523.2" r="0.68" fill="#c8406c" fill-opacity="0.95"/>
<circle cx="106.0" cy="561.6" r="0.68" fill="#c8406c" fill-opacity="0.95"/>
<circle cx="104.1" cy="532.8" r="0.68" fill="#c8406c" fill-opacity="0.95"/>
<circle cx="82.7" cy="543.7" r="0.68" fill="#c8406c" fill-opacity="0.95"/>
<circle cx="89.8" cy="537.1" r="0.68" fill="#c8406c" fill-opacity="0.95"/>
<circle cx="113.1" cy="543.9" r="0.68" fill="#c8406c" fill-opacity="0.95"/>
<circle cx="133.4" cy="548.4" r="0.68" fill="#c8406c" fill-opacity="0.95"/>
<circle cx="88.5" cy="530.7" r="0.68" fill="#c8406c" fill-opacity="0.95"/>
<circle cx="85.3" cy="527.4" r="0.68" fill="#c8406c" fill-opacity="0.95"/>
<circle cx="99.3" cy="561.5" r="0.68" fill="#c8406c" fill-opacity="0.95"/>
<circle cx="100.0" cy="548.2" r="0.68" fill="#c8406c" fill-opacity="0.95"/>
<circle cx="103.4" cy="551.3" r="0.68" fill="#c8406c" fill-opacity="0.95"/>
<circle cx="118.1" cy="572.7" r="0.68" fill="#c8406c" fill-opacity="0.95"/>
<circle cx="90.7" cy="554.3" r="0.68" fill="#c8406c" fill-opacity="0.95"/>
<circle cx="130.4" cy="566.8" r="0.68" fill="#c8406c" fill-opacity="0.95"/>
<circle cx="94.3" cy="563.6" r="0.68" fill="#c8406c" fill-opacity="0.95"/>
<circle cx="88.9" cy="544.4" r="0.68" fill="#c8406c" fill-opacity="0.95"/>
<circle cx="106.9" cy="532.2" r="0.68" fill="#c8406c" fill-opacity="0.95"/>
<circle cx="90.0" cy="548.4" r="0.68" fill="#c8406c" fill-opacity="0.95"/>
<circle cx="119.6" cy="536.0" r="0.68" fill="#c8406c" fill-opacity="0.95"/>
<circle cx="94.4" cy="537.9" r="0.68" fill="#c8406c" fill-opacity="0.95"/>
<circle cx="84.6" cy="532.0" r="0.68" fill="#c8406c" fill-opacity="0.95"/>
<circle cx="102.6" cy="550.5" r="0.68" fill="#c8406c" fill-opacity="0.95"/>
<circle cx="104.5" cy="539.3" r="0.68" fill="#c8406c" fill-opacity="0.95"/>
<circle cx="129.1" cy="546.1" r="0.68" fill="#c8406c" fill-opacity="0.95"/>
<circle cx="93.9" cy="544.1" r="0.68" fill="#c8406c" fill-opacity="0.95"/>
<circle cx="85.4" cy="571.4" r="0.68" fill="#c8406c" fill-opacity="0.95"/>
<circle cx="114.0" cy="551.5" r="0.68" fill="#c8406c" fill-opacity="0.95"/>
<circle cx="118.8" cy="558.0" r="0.68" fill="#c8406c" fill-opacity="0.95"/>
<circle cx="62.2" cy="555.1" r="0.68" fill="#c8406c" fill-opacity="0.95"/>
<circle cx="102.6" cy="531.1" r="0.68" fill="#c8406c" fill-opacity="0.95"/>
<circle cx="108.8" cy="544.6" r="0.68" fill="#c8406c" fill-opacity="0.95"/>
<circle cx="109.8" cy="552.1" r="0.68" fill="#c8406c" fill-opacity="0.95"/>
<circle cx="101.3" cy="564.7" r="0.68" fill="#c8406c" fill-opacity="0.95"/>
<circle cx="108.7" cy="557.2" r="0.68" fill="#c8406c" fill-opacity="0.95"/>
<circle cx="92.5" cy="543.1" r="0.68" fill="#c8406c" fill-opacity="0.95"/>
<circle cx="115.3" cy="558.4" r="0.68" fill="#c8406c" fill-opacity="0.95"/>
<circle cx="133.5" cy="550.4" r="0.68" fill="#c8406c" fill-opacity="0.95"/>
<circle cx="114.0" cy="536.4" r="0.68" fill="#c8406c" fill-opacity="0.95"/>
<circle cx="103.7" cy="547.1" r="0.68" fill="#c8406c" fill-opacity="0.95"/>
<circle cx="130.0" cy="534.3" r="0.68" fill="#c8406c" fill-opacity="0.95"/>
<circle cx="107.4" cy="569.0" r="0.68" fill="#c8406c" fill-opacity="0.95"/>
<circle cx="87.5" cy="538.7" r="0.68" fill="#c8406c" fill-opacity="0.95"/>
<circle cx="103.2" cy="559.9" r="0.68" fill="#c8406c" fill-opacity="0.95"/>
<circle cx="89.3" cy="555.0" r="0.68" fill="#c8406c" fill-opacity="0.95"/>
<circle cx="111.5" cy="543.3" r="0.68" fill="#c8406c" fill-opacity="0.95"/>
<circle cx="116.7" cy="556.0" r="0.68" fill="#c8406c" fill-opacity="0.95"/>
<circle cx="116.5" cy="552.4" r="0.68" fill="#c8406c" fill-opacity="0.95"/>
<circle cx="95.0" cy="531.0" r="0.68" fill="#c8406c" fill-opacity="0.95"/>
<circle cx="101.2" cy="551.0" r="0.68" fill="#c8406c" fill-opacity="0.95"/>
<circle cx="96.5" cy="554.7" r="0.68" fill="#c8406c" fill-opacity="0.95"/>
<circle cx="126.1" cy="529.5" r="0.68" fill="#c8406c" fill-opacity="0.95"/>
<circle cx="112.0" cy="545.5" r="0.68" fill="#c8406c" fill-opacity="0.95"/>
<circle cx="117.4" cy="547.5" r="0.68" fill="#c8406c" fill-opacity="0.95"/>
<circle cx="107.6" cy="543.8" r="0.68" fill="#c8406c" fill-opacity="0.95"/>
<circle cx="101.5" cy="530.8" r="0.68" fill="#c8406c" fill-opacity="0.95"/>
<circle cx="129.3" cy="529.5" r="0.68" fill="#c8406c" fill-opacity="0.95"/>
<circle cx="68.0" cy="534.6" r="0.68" fill="#c8406c" fill-opacity="0.95"/>
<circle cx="111.7" cy="552.7" r="0.68" fill="#c8406c" fill-opacity="0.95"/>
<circle cx="99.6" cy="536.9" r="0.68" fill="#c8406c" fill-opacity="0.95"/>
<circle cx="119.6" cy="536.5" r="0.68" fill="#c8406c" fill-opacity="0.95"/>
<circle cx="102.4" cy="548.9" r="0.68" fill="#c8406c" fill-opacity="0.95"/>
<circle cx="113.9" cy="548.2" r="0.68" fill="#c8406c" fill-opacity="0.95"/>
<circle cx="85.0" cy="559.4" r="0.68" fill="#c8406c" fill-opacity="0.95"/>
<circle cx="97.7" cy="546.3" r="0.68" fill="#c8406c" fill-opacity="0.95"/>
<circle cx="137.8" cy="558.5" r="0.68" fill="#c8406c" fill-opacity="0.95"/>
<circle cx="108.0" cy="549.3" r="0.68" fill="#c8406c" fill-opacity="0.95"/>
<circle cx="105.0" cy="533.5" r="0.68" fill="#c8406c" fill-opacity="0.95"/>
<circle cx="120.8" cy="547.8" r="0.68" fill="#c8406c" fill-opacity="0.95"/>
<circle cx="90.7" cy="566.7" r="0.68" fill="#c8406c" fill-opacity="0.95"/>
<circle cx="98.8" cy="535.8" r="0.68" fill="#c8406c" fill-opacity="0.95"/>
<circle cx="95.6" cy="542.5" r="0.68" fill="#c8406c" fill-opacity="0.95"/>
<circle cx="111.8" cy="543.1" r="0.68" fill="#c8406c" fill-opacity="0.95"/>
<circle cx="118.1" cy="547.8" r="0.68" fill="#c8406c" fill-opacity="0.95"/>
<circle cx="86.1" cy="565.4" r="0.68" fill="#c8406c" fill-opacity="0.95"/>
<circle cx="115.5" cy="551.0" r="0.68" fill="#c8406c" fill-opacity="0.95"/>
<circle cx="94.8" cy="541.2" r="0.68" fill="#c8406c" fill-opacity="0.95"/>
<circle cx="86.8" cy="532.0" r="0.68" fill="#c8406c" fill-opacity="0.95"/>
<circle cx="111.1" cy="553.7" r="0.68" fill="#c8406c" fill-opacity="0.95"/>
<circle cx="89.4" cy="539.3" r="0.68" fill="#c8406c" fill-opacity="0.95"/>
<circle cx="80.2" cy="560.4" r="0.68" fill="#c8406c" fill-opacity="0.95"/>
<circle cx="100.1" cy="547.4" r="0.68" fill="#c8406c" fill-opacity="0.95"/>
<circle cx="100.3" cy="545.3" r="0.68" fill="#c8406c" fill-opacity="0.95"/>
<circle cx="93.9" cy="552.1" r="0.68" fill="#c8406c" fill-opacity="0.95"/>
<circle cx="121.2" cy="538.6" r="0.68" fill="#c8406c" fill-opacity="0.95"/>
<circle cx="92.5" cy="531.6" r="0.68" fill="#c8406c" fill-opacity="0.95"/>
<circle cx="66.7" cy="554.6" r="0.68" fill="#c8406c" fill-opacity="0.95"/>
<circle cx="111.2" cy="536.7" r="0.68" fill="#c8406c" fill-opacity="0.95"/>
<circle cx="101.9" cy="553.7" r="0.68" fill="#c8406c" fill-opacity="0.95"/>
<circle cx="109.8" cy="550.1" r="0.68" fill="#c8406c" fill-opacity="0.95"/>
<circle cx="107.9" cy="580.6" r="0.68" fill="#c8406c" fill-opacity="0.95"/>
<circle cx="82.4" cy="594.1" r="0.68" fill="#c8406c" fill-opacity="0.95"/>
<circle cx="95.6" cy="601.2" r="0.68" fill="#c8406c" fill-opacity="0.95"/>
<circle cx="137.0" cy="576.2" r="0.68" fill="#c8406c" fill-opacity="0.95"/>
<circle cx="63.0" cy="568.4" r="0.68" fill="#c8406c" fill-opacity="0.95"/>
<line x1="68.70" y1="555.40" x2="155.40" y2="537.00" stroke="#bc2449" stroke-width="1.1"/>
<line x1="28.00" y1="521.60" x2="28.00" y2="539.90" stroke="#444" stroke-width="0.9"/>
<line x1="28.00" y1="554.60" x2="28.00" y2="574.90" stroke="#444" stroke-width="0.9"/>
<rect x="25.30" y="539.90" width="5.40" height="14.70" fill="none" stroke="#222" stroke-width="0.8"/>
<line x1="25.30" y1="547.90" x2="30.70" y2="547.90" stroke="#222" stroke-width="0.8"/>
<circle cx="28.0" cy="579.0" r="0.5" fill="#999"/>
<circle cx="28.0" cy="592.3" r="0.5" fill="#999"/>
<circle cx="28.0" cy="600.0" r="0.5" fill="#999"/>
<line x1="66.00" y1="639.00" x2="93.00" y2="639.00" stroke="#444" stroke-width="0.9"/>
<line x1="114.60" y1="639.00" x2="141.70" y2="639.00" stroke="#444" stroke-width="0.9"/>
<rect x="93.00" y="636.40" width="21.60" height="5.20" fill="none" stroke="#222" stroke-width="0.8"/>
<line x1="103.20" y1="636.40" x2="103.20" y2="641.60" stroke="#222" stroke-width="0.8"/>
<circle cx="146.0" cy="639.0" r="0.5" fill="#c8406c"/>
<circle cx="149.0" cy="639.0" r="0.5" fill="#c8406c"/>
<circle cx="152.0" cy="639.0" r="0.5" fill="#c8406c"/>
<g transform="translate(104.15 651.38) scale(1.092900826059386 1)"><text x="0" y="0" font-size="6.6" fill="#333" text-anchor="middle" stroke="#333" stroke-width="0.2"><tspan font-style="italic">r</tspan> = 0.279, 95% CI 0.135-0.411</text></g>
<g transform="translate(105.20 659.08) scale(1.0488880148155433 1)"><text x="0" y="0" font-size="6.6" fill="#333" text-anchor="middle" stroke="#333" stroke-width="0.2"><tspan font-style="italic">P</tspan> value = .000203</text></g>
<text x="180.00" y="512.50" font-size="12" fill="#000" font-weight="bold" stroke="#000" stroke-width="0.5">K</text>
<line x1="236.00" y1="521.60" x2="236.00" y2="604.80" stroke="#1a1a1a" stroke-width="1.3"/>
<line x1="235.50" y1="604.30" x2="331.50" y2="604.30" stroke="#1a1a1a" stroke-width="1.3"/>
<line x1="233.00" y1="600.40" x2="236.00" y2="600.40" stroke="#1a1a1a" stroke-width="0.9"/>
<text x="229.10" y="602.92" font-size="7.0" fill="#222" text-anchor="end" stroke="#222" stroke-width="0.2">140</text>
<line x1="233.00" y1="584.60" x2="236.00" y2="584.60" stroke="#1a1a1a" stroke-width="0.9"/>
<text x="229.10" y="587.12" font-size="7.0" fill="#222" text-anchor="end" stroke="#222" stroke-width="0.2">160</text>
<line x1="233.00" y1="568.80" x2="236.00" y2="568.80" stroke="#1a1a1a" stroke-width="0.9"/>
<text x="229.10" y="571.32" font-size="7.0" fill="#222" text-anchor="end" stroke="#222" stroke-width="0.2">180</text>
<line x1="233.00" y1="553.00" x2="236.00" y2="553.00" stroke="#1a1a1a" stroke-width="0.9"/>
<text x="229.10" y="555.52" font-size="7.0" fill="#222" text-anchor="end" stroke="#222" stroke-width="0.2">200</text>
<line x1="233.00" y1="537.20" x2="236.00" y2="537.20" stroke="#1a1a1a" stroke-width="0.9"/>
<text x="229.10" y="539.72" font-size="7.0" fill="#222" text-anchor="end" stroke="#222" stroke-width="0.2">220</text>
<line x1="251.12" y1="604.30" x2="251.12" y2="607.30" stroke="#1a1a1a" stroke-width="0.9"/>
<text x="251.12" y="617.92" font-size="7.0" fill="#222" text-anchor="middle" stroke="#222" stroke-width="0.2">2</text>
<line x1="268.84" y1="604.30" x2="268.84" y2="607.30" stroke="#1a1a1a" stroke-width="0.9"/>
<text x="268.84" y="617.92" font-size="7.0" fill="#222" text-anchor="middle" stroke="#222" stroke-width="0.2">4</text>
<line x1="286.56" y1="604.30" x2="286.56" y2="607.30" stroke="#1a1a1a" stroke-width="0.9"/>
<text x="286.56" y="617.92" font-size="7.0" fill="#222" text-anchor="middle" stroke="#222" stroke-width="0.2">6</text>
<line x1="304.28" y1="604.30" x2="304.28" y2="607.30" stroke="#1a1a1a" stroke-width="0.9"/>
<text x="304.28" y="617.92" font-size="7.0" fill="#222" text-anchor="middle" stroke="#222" stroke-width="0.2">8</text>
<line x1="322.00" y1="604.30" x2="322.00" y2="607.30" stroke="#1a1a1a" stroke-width="0.9"/>
<text x="322.00" y="617.92" font-size="7.0" fill="#222" text-anchor="middle" stroke="#222" stroke-width="0.2">10</text>
<text x="210.50" y="562.80" font-size="8.6" fill="#222" text-anchor="middle" textLength="55.7" lengthAdjust="spacingAndGlyphs" transform="rotate(-90 210.50 562.80)" stroke="#222" stroke-width="0.4">TIGIT_CD4_T_cell</text>
<text x="283.70" y="631.44" font-size="9.0" fill="#222" text-anchor="middle" textLength="39.8" lengthAdjust="spacingAndGlyphs" stroke="#222" stroke-width="0.3">LOG2_CCND1</text>
<text x="283.90" y="512.85" font-size="9.3" fill="#222" text-anchor="middle" stroke="#222" stroke-width="0.2">TCGA</text>
<circle cx="266.8" cy="594.1" r="0.68" fill="#c8406c" fill-opacity="0.95"/>
<circle cx="272.9" cy="599.3" r="0.68" fill="#c8406c" fill-opacity="0.95"/>
<circle cx="261.4" cy="599.5" r="0.68" fill="#c8406c" fill-opacity="0.95"/>
<circle cx="267.1" cy="595.4" r="0.68" fill="#c8406c" fill-opacity="0.95"/>
<circle cx="277.1" cy="599.4" r="0.68" fill="#c8406c" fill-opacity="0.95"/>
<circle cx="270.8" cy="599.2" r="0.68" fill="#c8406c" fill-opacity="0.95"/>
<circle cx="255.6" cy="598.9" r="0.68" fill="#c8406c" fill-opacity="0.95"/>
<circle cx="275.7" cy="598.0" r="0.68" fill="#c8406c" fill-opacity="0.95"/>
<circle cx="255.4" cy="594.8" r="0.68" fill="#c8406c" fill-opacity="0.95"/>
<circle cx="254.9" cy="596.4" r="0.68" fill="#c8406c" fill-opacity="0.95"/>
<circle cx="271.3" cy="592.2" r="0.68" fill="#c8406c" fill-opacity="0.95"/>
<circle cx="268.5" cy="597.4" r="0.68" fill="#c8406c" fill-opacity="0.95"/>
<circle cx="271.3" cy="597.2" r="0.68" fill="#c8406c" fill-opacity="0.95"/>
<circle cx="272.0" cy="592.6" r="0.68" fill="#c8406c" fill-opacity="0.95"/>
<circle cx="273.3" cy="594.2" r="0.68" fill="#c8406c" fill-opacity="0.95"/>
<circle cx="278.4" cy="596.6" r="0.68" fill="#c8406c" fill-opacity="0.95"/>
<circle cx="266.1" cy="599.5" r="0.68" fill="#c8406c" fill-opacity="0.95"/>
<circle cx="268.0" cy="598.1" r="0.68" fill="#c8406c" fill-opacity="0.95"/>
<circle cx="265.3" cy="597.2" r="0.68" fill="#c8406c" fill-opacity="0.95"/>
<circle cx="261.2" cy="594.7" r="0.68" fill="#c8406c" fill-opacity="0.95"/>
<circle cx="262.4" cy="592.8" r="0.68" fill="#c8406c" fill-opacity="0.95"/>
<circle cx="270.8" cy="593.7" r="0.68" fill="#c8406c" fill-opacity="0.95"/>
<circle cx="269.2" cy="595.2" r="0.68" fill="#c8406c" fill-opacity="0.95"/>
<circle cx="279.3" cy="592.1" r="0.68" fill="#c8406c" fill-opacity="0.95"/>
<circle cx="268.0" cy="591.1" r="0.68" fill="#c8406c" fill-opacity="0.95"/>
<circle cx="262.3" cy="598.9" r="0.68" fill="#c8406c" fill-opacity="0.95"/>
<circle cx="257.2" cy="598.6" r="0.68" fill="#c8406c" fill-opacity="0.95"/>
<circle cx="275.4" cy="595.6" r="0.68" fill="#c8406c" fill-opacity="0.95"/>
<circle cx="280.3" cy="593.1" r="0.68" fill="#c8406c" fill-opacity="0.95"/>
<circle cx="271.7" cy="594.8" r="0.68" fill="#c8406c" fill-opacity="0.95"/>
<circle cx="273.7" cy="593.7" r="0.68" fill="#c8406c" fill-opacity="0.95"/>
<circle cx="264.0" cy="594.6" r="0.68" fill="#c8406c" fill-opacity="0.95"/>
<circle cx="261.1" cy="592.4" r="0.68" fill="#c8406c" fill-opacity="0.95"/>
<circle cx="264.6" cy="591.4" r="0.68" fill="#c8406c" fill-opacity="0.95"/>
<circle cx="257.2" cy="599.5" r="0.68" fill="#c8406c" fill-opacity="0.95"/>
<circle cx="270.7" cy="593.6" r="0.68" fill="#c8406c" fill-opacity="0.95"/>
<circle cx="253.7" cy="592.5" r="0.68" fill="#c8406c" fill-opacity="0.95"/>
<circle cx="248.8" cy="597.4" r="0.68" fill="#c8406c" fill-opacity="0.95"/>
<circle cx="259.9" cy="599.8" r="0.68" fill="#c8406c" fill-opacity="0.95"/>
<circle cx="276.6" cy="595.8" r="0.68" fill="#c8406c" fill-opacity="0.95"/>
<circle cx="270.8" cy="599.5" r="0.68" fill="#c8406c" fill-opacity="0.95"/>
<circle cx="272.3" cy="593.0" r="0.68" fill="#c8406c" fill-opacity="0.95"/>
<circle cx="273.0" cy="596.5" r="0.68" fill="#c8406c" fill-opacity="0.95"/>
<circle cx="273.2" cy="592.1" r="0.68" fill="#c8406c" fill-opacity="0.95"/>
<circle cx="276.5" cy="595.0" r="0.68" fill="#c8406c" fill-opacity="0.95"/>
<circle cx="291.0" cy="553.1" r="0.68" fill="#c8406c" fill-opacity="0.95"/>
<circle cx="295.7" cy="582.2" r="0.68" fill="#c8406c" fill-opacity="0.95"/>
<circle cx="255.7" cy="575.6" r="0.68" fill="#c8406c" fill-opacity="0.95"/>
<circle cx="263.3" cy="549.5" r="0.68" fill="#c8406c" fill-opacity="0.95"/>
<circle cx="307.3" cy="588.4" r="0.68" fill="#c8406c" fill-opacity="0.95"/>
<circle cx="287.9" cy="584.4" r="0.68" fill="#c8406c" fill-opacity="0.95"/>
<circle cx="292.8" cy="572.3" r="0.68" fill="#c8406c" fill-opacity="0.95"/>
<circle cx="273.1" cy="595.5" r="0.68" fill="#c8406c" fill-opacity="0.95"/>
<circle cx="276.8" cy="575.5" r="0.68" fill="#c8406c" fill-opacity="0.95"/>
<circle cx="269.8" cy="549.7" r="0.68" fill="#c8406c" fill-opacity="0.95"/>
<circle cx="297.3" cy="562.4" r="0.68" fill="#c8406c" fill-opacity="0.95"/>
<circle cx="262.2" cy="563.1" r="0.68" fill="#c8406c" fill-opacity="0.95"/>
<circle cx="281.0" cy="593.1" r="0.68" fill="#c8406c" fill-opacity="0.95"/>
<circle cx="304.2" cy="553.5" r="0.68" fill="#c8406c" fill-opacity="0.95"/>
<circle cx="267.5" cy="557.2" r="0.68" fill="#c8406c" fill-opacity="0.95"/>
<circle cx="271.2" cy="590.7" r="0.68" fill="#c8406c" fill-opacity="0.95"/>
<circle cx="292.5" cy="565.1" r="0.68" fill="#c8406c" fill-opacity="0.95"/>
<circle cx="288.2" cy="585.6" r="0.68" fill="#c8406c" fill-opacity="0.95"/>
<circle cx="285.2" cy="587.8" r="0.68" fill="#c8406c" fill-opacity="0.95"/>
<circle cx="280.4" cy="595.6" r="0.68" fill="#c8406c" fill-opacity="0.95"/>
<circle cx="287.2" cy="588.4" r="0.68" fill="#c8406c" fill-opacity="0.95"/>
<circle cx="294.5" cy="594.4" r="0.68" fill="#c8406c" fill-opacity="0.95"/>
<circle cx="291.5" cy="553.5" r="0.68" fill="#c8406c" fill-opacity="0.95"/>
<circle cx="276.6" cy="583.5" r="0.68" fill="#c8406c" fill-opacity="0.95"/>
<circle cx="277.4" cy="578.9" r="0.68" fill="#c8406c" fill-opacity="0.95"/>
<circle cx="277.9" cy="554.7" r="0.68" fill="#c8406c" fill-opacity="0.95"/>
<circle cx="288.8" cy="547.8" r="0.68" fill="#c8406c" fill-opacity="0.95"/>
<circle cx="266.1" cy="591.5" r="0.68" fill="#c8406c" fill-opacity="0.95"/>
<circle cx="286.7" cy="590.7" r="0.68" fill="#c8406c" fill-opacity="0.95"/>
<circle cx="276.5" cy="555.7" r="0.68" fill="#c8406c" fill-opacity="0.95"/>
<circle cx="292.9" cy="587.9" r="0.68" fill="#c8406c" fill-opacity="0.95"/>
<circle cx="319.6" cy="570.2" r="0.68" fill="#c8406c" fill-opacity="0.95"/>
<circle cx="288.4" cy="588.6" r="0.68" fill="#c8406c" fill-opacity="0.95"/>
<circle cx="279.6" cy="570.2" r="0.68" fill="#c8406c" fill-opacity="0.95"/>
<circle cx="282.1" cy="548.5" r="0.68" fill="#c8406c" fill-opacity="0.95"/>
<circle cx="298.2" cy="583.1" r="0.68" fill="#c8406c" fill-opacity="0.95"/>
<circle cx="265.4" cy="578.0" r="0.68" fill="#c8406c" fill-opacity="0.95"/>
<circle cx="295.9" cy="570.0" r="0.68" fill="#c8406c" fill-opacity="0.95"/>
<circle cx="305.5" cy="558.1" r="0.68" fill="#c8406c" fill-opacity="0.95"/>
<circle cx="277.9" cy="556.6" r="0.68" fill="#c8406c" fill-opacity="0.95"/>
<circle cx="292.4" cy="548.2" r="0.68" fill="#c8406c" fill-opacity="0.95"/>
<circle cx="299.4" cy="556.2" r="0.68" fill="#c8406c" fill-opacity="0.95"/>
<circle cx="261.2" cy="560.0" r="0.68" fill="#c8406c" fill-opacity="0.95"/>
<circle cx="285.7" cy="578.5" r="0.68" fill="#c8406c" fill-opacity="0.95"/>
<circle cx="301.0" cy="594.3" r="0.68" fill="#c8406c" fill-opacity="0.95"/>
<circle cx="295.0" cy="583.2" r="0.68" fill="#c8406c" fill-opacity="0.95"/>
<circle cx="285.1" cy="562.3" r="0.68" fill="#c8406c" fill-opacity="0.95"/>
<circle cx="298.8" cy="550.5" r="0.68" fill="#c8406c" fill-opacity="0.95"/>
<circle cx="278.6" cy="548.0" r="0.68" fill="#c8406c" fill-opacity="0.95"/>
<circle cx="296.8" cy="585.0" r="0.68" fill="#c8406c" fill-opacity="0.95"/>
<circle cx="279.0" cy="584.7" r="0.68" fill="#c8406c" fill-opacity="0.95"/>
<circle cx="286.4" cy="565.6" r="0.68" fill="#c8406c" fill-opacity="0.95"/>
<circle cx="292.6" cy="552.3" r="0.68" fill="#c8406c" fill-opacity="0.95"/>
<circle cx="292.3" cy="564.2" r="0.68" fill="#c8406c" fill-opacity="0.95"/>
<circle cx="268.5" cy="557.1" r="0.68" fill="#c8406c" fill-opacity="0.95"/>
<circle cx="302.1" cy="551.8" r="0.68" fill="#c8406c" fill-opacity="0.95"/>
<circle cx="294.3" cy="558.0" r="0.68" fill="#c8406c" fill-opacity="0.95"/>
<circle cx="283.0" cy="587.1" r="0.68" fill="#c8406c" fill-opacity="0.95"/>
<circle cx="265.8" cy="557.6" r="0.68" fill="#c8406c" fill-opacity="0.95"/>
<circle cx="269.6" cy="548.8" r="0.68" fill="#c8406c" fill-opacity="0.95"/>
<circle cx="306.5" cy="576.6" r="0.68" fill="#c8406c" fill-opacity="0.95"/>
<circle cx="253.3" cy="560.7" r="0.68" fill="#c8406c" fill-opacity="0.95"/>
<circle cx="304.2" cy="587.5" r="0.68" fill="#c8406c" fill-opacity="0.95"/>
<circle cx="289.0" cy="552.1" r="0.68" fill="#c8406c" fill-opacity="0.95"/>
<circle cx="289.2" cy="556.8" r="0.68" fill="#c8406c" fill-opacity="0.95"/>
<circle cx="300.1" cy="548.4" r="0.68" fill="#c8406c" fill-opacity="0.95"/>
<circle cx="305.4" cy="564.0" r="0.68" fill="#c8406c" fill-opacity="0.95"/>
<circle cx="271.8" cy="589.3" r="0.68" fill="#c8406c" fill-opacity="0.95"/>
<circle cx="298.4" cy="595.0" r="0.68" fill="#c8406c" fill-opacity="0.95"/>
<circle cx="304.5" cy="570.3" r="0.68" fill="#c8406c" fill-opacity="0.95"/>
<circle cx="279.0" cy="550.7" r="0.68" fill="#c8406c" fill-opacity="0.95"/>
<circle cx="255.1" cy="555.8" r="0.68" fill="#c8406c" fill-opacity="0.95"/>
<circle cx="295.3" cy="585.5" r="0.68" fill="#c8406c" fill-opacity="0.95"/>
<circle cx="282.9" cy="584.1" r="0.68" fill="#c8406c" fill-opacity="0.95"/>
<circle cx="295.6" cy="567.4" r="0.68" fill="#c8406c" fill-opacity="0.95"/>
<circle cx="282.1" cy="589.3" r="0.68" fill="#c8406c" fill-opacity="0.95"/>
<circle cx="298.7" cy="551.8" r="0.68" fill="#c8406c" fill-opacity="0.95"/>
<circle cx="272.9" cy="567.5" r="0.68" fill="#c8406c" fill-opacity="0.95"/>
<circle cx="296.3" cy="552.1" r="0.68" fill="#c8406c" fill-opacity="0.95"/>
<circle cx="253.5" cy="571.5" r="0.68" fill="#c8406c" fill-opacity="0.95"/>
<circle cx="299.1" cy="570.0" r="0.68" fill="#c8406c" fill-opacity="0.95"/>
<circle cx="280.1" cy="574.5" r="0.68" fill="#c8406c" fill-opacity="0.95"/>
<circle cx="282.6" cy="586.8" r="0.68" fill="#c8406c" fill-opacity="0.95"/>
<circle cx="310.0" cy="587.4" r="0.68" fill="#c8406c" fill-opacity="0.95"/>
<circle cx="283.7" cy="572.8" r="0.68" fill="#c8406c" fill-opacity="0.95"/>
<circle cx="280.0" cy="580.0" r="0.68" fill="#c8406c" fill-opacity="0.95"/>
<circle cx="264.0" cy="570.7" r="0.68" fill="#c8406c" fill-opacity="0.95"/>
<circle cx="258.2" cy="590.5" r="0.68" fill="#c8406c" fill-opacity="0.95"/>
<circle cx="274.0" cy="568.7" r="0.68" fill="#c8406c" fill-opacity="0.95"/>
<circle cx="283.1" cy="558.4" r="0.68" fill="#c8406c" fill-opacity="0.95"/>
<circle cx="295.1" cy="571.2" r="0.68" fill="#c8406c" fill-opacity="0.95"/>
<circle cx="259.5" cy="551.7" r="0.68" fill="#c8406c" fill-opacity="0.95"/>
<circle cx="273.4" cy="574.3" r="0.68" fill="#c8406c" fill-opacity="0.95"/>
<circle cx="269.4" cy="571.0" r="0.68" fill="#c8406c" fill-opacity="0.95"/>
<circle cx="271.4" cy="562.3" r="0.68" fill="#c8406c" fill-opacity="0.95"/>
<circle cx="265.2" cy="572.6" r="0.68" fill="#c8406c" fill-opacity="0.95"/>
<circle cx="288.5" cy="550.3" r="0.68" fill="#c8406c" fill-opacity="0.95"/>
<circle cx="273.4" cy="550.3" r="0.68" fill="#c8406c" fill-opacity="0.95"/>
<circle cx="253.8" cy="583.2" r="0.68" fill="#c8406c" fill-opacity="0.95"/>
<circle cx="249.4" cy="555.2" r="0.68" fill="#c8406c" fill-opacity="0.95"/>
<circle cx="269.8" cy="589.1" r="0.68" fill="#c8406c" fill-opacity="0.95"/>
<circle cx="294.8" cy="592.2" r="0.68" fill="#c8406c" fill-opacity="0.95"/>
<circle cx="294.3" cy="584.1" r="0.68" fill="#c8406c" fill-opacity="0.95"/>
<circle cx="303.1" cy="557.9" r="0.68" fill="#c8406c" fill-opacity="0.95"/>
<circle cx="293.0" cy="552.4" r="0.68" fill="#c8406c" fill-opacity="0.95"/>
<circle cx="292.9" cy="566.3" r="0.68" fill="#c8406c" fill-opacity="0.95"/>
<circle cx="313.5" cy="593.3" r="0.68" fill="#c8406c" fill-opacity="0.95"/>
<circle cx="322.5" cy="554.5" r="0.68" fill="#c8406c" fill-opacity="0.95"/>
<circle cx="295.5" cy="555.2" r="0.68" fill="#c8406c" fill-opacity="0.95"/>
<circle cx="302.8" cy="577.1" r="0.68" fill="#c8406c" fill-opacity="0.95"/>
<circle cx="326.9" cy="560.9" r="0.68" fill="#c8406c" fill-opacity="0.95"/>
<circle cx="293.1" cy="579.7" r="0.68" fill="#c8406c" fill-opacity="0.95"/>
<circle cx="307.6" cy="584.1" r="0.68" fill="#c8406c" fill-opacity="0.95"/>
<circle cx="294.5" cy="585.0" r="0.68" fill="#c8406c" fill-opacity="0.95"/>
<circle cx="316.0" cy="599.1" r="0.68" fill="#c8406c" fill-opacity="0.95"/>
<circle cx="309.1" cy="579.3" r="0.68" fill="#c8406c" fill-opacity="0.95"/>
<circle cx="287.3" cy="584.4" r="0.68" fill="#c8406c" fill-opacity="0.95"/>
<circle cx="312.0" cy="575.9" r="0.68" fill="#c8406c" fill-opacity="0.95"/>
<circle cx="289.2" cy="553.7" r="0.68" fill="#c8406c" fill-opacity="0.95"/>
<circle cx="318.7" cy="554.3" r="0.68" fill="#c8406c" fill-opacity="0.95"/>
<circle cx="290.8" cy="587.5" r="0.68" fill="#c8406c" fill-opacity="0.95"/>
<circle cx="288.2" cy="563.4" r="0.68" fill="#c8406c" fill-opacity="0.95"/>
<circle cx="297.6" cy="593.9" r="0.68" fill="#c8406c" fill-opacity="0.95"/>
<circle cx="244.0" cy="549.0" r="0.68" fill="#c8406c" fill-opacity="0.95"/>
<circle cx="240.5" cy="583.0" r="0.68" fill="#c8406c" fill-opacity="0.95"/>
<circle cx="247.6" cy="568.8" r="0.68" fill="#c8406c" fill-opacity="0.95"/>
<circle cx="282.1" cy="525.4" r="0.68" fill="#c8406c" fill-opacity="0.95"/>
<circle cx="284.8" cy="536.4" r="0.68" fill="#c8406c" fill-opacity="0.95"/>
<circle cx="239.6" cy="598.0" r="0.68" fill="#c8406c" fill-opacity="0.95"/>
<circle cx="325.5" cy="594.9" r="0.68" fill="#c8406c" fill-opacity="0.95"/>
<line x1="239.50" y1="590.50" x2="328.30" y2="560.70" stroke="#bc2449" stroke-width="1.1"/>
<line x1="197.10" y1="524.10" x2="197.10" y2="556.00" stroke="#444" stroke-width="0.9"/>
<line x1="197.10" y1="595.30" x2="197.10" y2="600.80" stroke="#444" stroke-width="0.9"/>
<rect x="194.40" y="556.00" width="5.40" height="39.30" fill="none" stroke="#222" stroke-width="0.8"/>
<line x1="194.40" y1="582.00" x2="199.80" y2="582.00" stroke="#222" stroke-width="0.8"/>
<line x1="195.80" y1="600.80" x2="198.40" y2="600.80" stroke="#555" stroke-width="0.7"/>
<line x1="243.70" y1="638.80" x2="271.20" y2="638.80" stroke="#444" stroke-width="0.9"/>
<line x1="292.80" y1="638.80" x2="319.90" y2="638.80" stroke="#444" stroke-width="0.9"/>
<rect x="271.20" y="636.20" width="21.60" height="5.20" fill="none" stroke="#222" stroke-width="0.8"/>
<line x1="281.40" y1="636.20" x2="281.40" y2="641.40" stroke="#222" stroke-width="0.8"/>
<circle cx="322.5" cy="638.8" r="0.5" fill="#c8406c"/>
<circle cx="326.0" cy="638.8" r="0.5" fill="#c8406c"/>
<circle cx="329.5" cy="638.8" r="0.5" fill="#c8406c"/>
<g transform="translate(283.50 651.38) scale(1.0834729115900916 1)"><text x="0" y="0" font-size="6.6" fill="#333" text-anchor="middle" stroke="#333" stroke-width="0.2"><tspan font-style="italic">r</tspan> = 0.294, 95% CI 0.152-0.425</text></g>
<g transform="translate(286.50 659.08) scale(0.9954417574015991 1)"><text x="0" y="0" font-size="6.6" fill="#333" text-anchor="middle" stroke="#333" stroke-width="0.2"><tspan font-style="italic">P</tspan> value = .0000848</text></g>
<text x="356.50" y="512.50" font-size="12" fill="#000" font-weight="bold" stroke="#000" stroke-width="0.5">L</text>
<line x1="415.30" y1="519.10" x2="415.30" y2="604.70" stroke="#1a1a1a" stroke-width="1.3"/>
<line x1="414.80" y1="604.20" x2="503.30" y2="604.20" stroke="#1a1a1a" stroke-width="1.3"/>
<line x1="412.30" y1="604.50" x2="415.30" y2="604.50" stroke="#1a1a1a" stroke-width="0.9"/>
<text x="409.10" y="607.02" font-size="7.0" fill="#222" text-anchor="end" stroke="#222" stroke-width="0.2">21.0</text>
<line x1="412.30" y1="592.00" x2="415.30" y2="592.00" stroke="#1a1a1a" stroke-width="0.9"/>
<text x="409.10" y="594.52" font-size="7.0" fill="#222" text-anchor="end" stroke="#222" stroke-width="0.2">21.5</text>
<line x1="412.30" y1="579.50" x2="415.30" y2="579.50" stroke="#1a1a1a" stroke-width="0.9"/>
<text x="409.10" y="582.02" font-size="7.0" fill="#222" text-anchor="end" stroke="#222" stroke-width="0.2">22.0</text>
<line x1="412.30" y1="567.00" x2="415.30" y2="567.00" stroke="#1a1a1a" stroke-width="0.9"/>
<text x="409.10" y="569.52" font-size="7.0" fill="#222" text-anchor="end" stroke="#222" stroke-width="0.2">22.5</text>
<line x1="412.30" y1="554.50" x2="415.30" y2="554.50" stroke="#1a1a1a" stroke-width="0.9"/>
<text x="409.10" y="557.02" font-size="7.0" fill="#222" text-anchor="end" stroke="#222" stroke-width="0.2">23.0</text>
<line x1="412.30" y1="542.00" x2="415.30" y2="542.00" stroke="#1a1a1a" stroke-width="0.9"/>
<text x="409.10" y="544.52" font-size="7.0" fill="#222" text-anchor="end" stroke="#222" stroke-width="0.2">23.5</text>
<line x1="412.30" y1="529.50" x2="415.30" y2="529.50" stroke="#1a1a1a" stroke-width="0.9"/>
<text x="409.10" y="532.02" font-size="7.0" fill="#222" text-anchor="end" stroke="#222" stroke-width="0.2">24.0</text>
<line x1="428.30" y1="604.20" x2="428.30" y2="607.20" stroke="#1a1a1a" stroke-width="0.9"/>
<text x="428.30" y="617.92" font-size="7.0" fill="#222" text-anchor="middle" stroke="#222" stroke-width="0.2">0</text>
<line x1="455.70" y1="604.20" x2="455.70" y2="607.20" stroke="#1a1a1a" stroke-width="0.9"/>
<text x="455.70" y="617.92" font-size="7.0" fill="#222" text-anchor="middle" stroke="#222" stroke-width="0.2">5</text>
<line x1="483.10" y1="604.20" x2="483.10" y2="607.20" stroke="#1a1a1a" stroke-width="0.9"/>
<text x="483.10" y="617.92" font-size="7.0" fill="#222" text-anchor="middle" stroke="#222" stroke-width="0.2">10</text>
<text x="388.10" y="561.60" font-size="8.6" fill="#222" text-anchor="middle" textLength="53.2" lengthAdjust="spacingAndGlyphs" transform="rotate(-90 388.10 561.60)" stroke="#222" stroke-width="0.4">IFNG_CD8_T_cell</text>
<text x="459.50" y="631.44" font-size="9.0" fill="#222" text-anchor="middle" textLength="43.3" lengthAdjust="spacingAndGlyphs" stroke="#222" stroke-width="0.3">LOG2_MECOM</text>
<text x="459.60" y="512.85" font-size="9.3" fill="#222" text-anchor="middle" stroke="#222" stroke-width="0.2">TCGA</text>
<circle cx="418.6" cy="592.4" r="0.68" fill="#c8406c" fill-opacity="0.95"/>
<circle cx="418.6" cy="591.2" r="0.68" fill="#c8406c" fill-opacity="0.95"/>
<circle cx="418.8" cy="601.9" r="0.68" fill="#c8406c" fill-opacity="0.95"/>
<circle cx="418.4" cy="586.5" r="0.68" fill="#c8406c" fill-opacity="0.95"/>
<circle cx="418.6" cy="598.6" r="0.68" fill="#c8406c" fill-opacity="0.95"/>
<circle cx="419.0" cy="593.8" r="0.68" fill="#c8406c" fill-opacity="0.95"/>
<circle cx="418.9" cy="593.7" r="0.68" fill="#c8406c" fill-opacity="0.95"/>
<circle cx="418.8" cy="600.2" r="0.68" fill="#c8406c" fill-opacity="0.95"/>
<circle cx="418.8" cy="585.9" r="0.68" fill="#c8406c" fill-opacity="0.95"/>
<circle cx="418.7" cy="588.4" r="0.68" fill="#c8406c" fill-opacity="0.95"/>
<circle cx="418.8" cy="602.0" r="0.68" fill="#c8406c" fill-opacity="0.95"/>
<circle cx="418.9" cy="591.4" r="0.68" fill="#c8406c" fill-opacity="0.95"/>
<circle cx="418.6" cy="602.6" r="0.68" fill="#c8406c" fill-opacity="0.95"/>
<circle cx="418.9" cy="593.8" r="0.68" fill="#c8406c" fill-opacity="0.95"/>
<circle cx="418.8" cy="585.7" r="0.68" fill="#c8406c" fill-opacity="0.95"/>
<circle cx="418.8" cy="584.8" r="0.68" fill="#c8406c" fill-opacity="0.95"/>
<circle cx="418.6" cy="587.2" r="0.68" fill="#c8406c" fill-opacity="0.95"/>
<circle cx="418.7" cy="584.5" r="0.68" fill="#c8406c" fill-opacity="0.95"/>
<circle cx="418.9" cy="601.3" r="0.68" fill="#c8406c" fill-opacity="0.95"/>
<circle cx="418.5" cy="598.9" r="0.68" fill="#c8406c" fill-opacity="0.95"/>
<circle cx="419.0" cy="594.5" r="0.68" fill="#c8406c" fill-opacity="0.95"/>
<circle cx="418.8" cy="597.2" r="0.68" fill="#c8406c" fill-opacity="0.95"/>
<circle cx="418.7" cy="595.5" r="0.68" fill="#c8406c" fill-opacity="0.95"/>
<circle cx="418.6" cy="591.5" r="0.68" fill="#c8406c" fill-opacity="0.95"/>
<circle cx="418.8" cy="585.2" r="0.68" fill="#c8406c" fill-opacity="0.95"/>
<circle cx="418.8" cy="584.7" r="0.68" fill="#c8406c" fill-opacity="0.95"/>
<circle cx="418.9" cy="583.4" r="0.68" fill="#c8406c" fill-opacity="0.95"/>
<circle cx="418.8" cy="600.0" r="0.68" fill="#c8406c" fill-opacity="0.95"/>
<circle cx="418.9" cy="584.0" r="0.68" fill="#c8406c" fill-opacity="0.95"/>
<circle cx="419.0" cy="591.9" r="0.68" fill="#c8406c" fill-opacity="0.95"/>
<circle cx="418.8" cy="599.0" r="0.68" fill="#c8406c" fill-opacity="0.95"/>
<circle cx="418.9" cy="591.8" r="0.68" fill="#c8406c" fill-opacity="0.95"/>
<circle cx="418.6" cy="602.0" r="0.68" fill="#c8406c" fill-opacity="0.95"/>
<circle cx="418.9" cy="583.5" r="0.68" fill="#c8406c" fill-opacity="0.95"/>
<circle cx="418.5" cy="532.0" r="0.68" fill="#c8406c" fill-opacity="0.95"/>
<circle cx="418.7" cy="572.6" r="0.68" fill="#c8406c" fill-opacity="0.95"/>
<circle cx="418.6" cy="534.0" r="0.68" fill="#c8406c" fill-opacity="0.95"/>
<circle cx="418.9" cy="579.2" r="0.68" fill="#c8406c" fill-opacity="0.95"/>
<circle cx="418.8" cy="579.2" r="0.68" fill="#c8406c" fill-opacity="0.95"/>
<circle cx="418.8" cy="561.3" r="0.68" fill="#c8406c" fill-opacity="0.95"/>
<circle cx="418.9" cy="520.7" r="0.68" fill="#c8406c" fill-opacity="0.95"/>
<circle cx="418.7" cy="519.6" r="0.68" fill="#c8406c" fill-opacity="0.95"/>
<circle cx="418.6" cy="577.2" r="0.68" fill="#c8406c" fill-opacity="0.95"/>
<circle cx="418.8" cy="580.0" r="0.68" fill="#c8406c" fill-opacity="0.95"/>
<circle cx="418.5" cy="556.5" r="0.68" fill="#c8406c" fill-opacity="0.95"/>
<circle cx="418.8" cy="572.2" r="0.68" fill="#c8406c" fill-opacity="0.95"/>
<circle cx="418.4" cy="527.8" r="0.68" fill="#c8406c" fill-opacity="0.95"/>
<circle cx="418.6" cy="522.1" r="0.68" fill="#c8406c" fill-opacity="0.95"/>
<circle cx="444.1" cy="594.6" r="0.68" fill="#c8406c" fill-opacity="0.95"/>
<circle cx="434.3" cy="592.3" r="0.68" fill="#c8406c" fill-opacity="0.95"/>
<circle cx="438.4" cy="591.1" r="0.68" fill="#c8406c" fill-opacity="0.95"/>
<circle cx="436.5" cy="590.7" r="0.68" fill="#c8406c" fill-opacity="0.95"/>
<circle cx="445.0" cy="592.5" r="0.68" fill="#c8406c" fill-opacity="0.95"/>
<circle cx="433.6" cy="589.0" r="0.68" fill="#c8406c" fill-opacity="0.95"/>
<circle cx="429.3" cy="595.9" r="0.68" fill="#c8406c" fill-opacity="0.95"/>
<circle cx="445.9" cy="592.3" r="0.68" fill="#c8406c" fill-opacity="0.95"/>
<circle cx="436.2" cy="600.6" r="0.68" fill="#c8406c" fill-opacity="0.95"/>
<circle cx="433.2" cy="591.3" r="0.68" fill="#c8406c" fill-opacity="0.95"/>
<circle cx="424.4" cy="590.7" r="0.68" fill="#c8406c" fill-opacity="0.95"/>
<circle cx="438.1" cy="599.8" r="0.68" fill="#c8406c" fill-opacity="0.95"/>
<circle cx="438.0" cy="593.2" r="0.68" fill="#c8406c" fill-opacity="0.95"/>
<circle cx="439.2" cy="595.0" r="0.68" fill="#c8406c" fill-opacity="0.95"/>
<circle cx="439.8" cy="588.8" r="0.68" fill="#c8406c" fill-opacity="0.95"/>
<circle cx="424.4" cy="599.8" r="0.68" fill="#c8406c" fill-opacity="0.95"/>
<circle cx="439.1" cy="585.1" r="0.68" fill="#c8406c" fill-opacity="0.95"/>
<circle cx="429.6" cy="593.3" r="0.68" fill="#c8406c" fill-opacity="0.95"/>
<circle cx="437.2" cy="595.5" r="0.68" fill="#c8406c" fill-opacity="0.95"/>
<circle cx="432.1" cy="595.7" r="0.68" fill="#c8406c" fill-opacity="0.95"/>
<circle cx="432.2" cy="591.1" r="0.68" fill="#c8406c" fill-opacity="0.95"/>
<circle cx="430.7" cy="594.6" r="0.68" fill="#c8406c" fill-opacity="0.95"/>
<circle cx="441.3" cy="600.3" r="0.68" fill="#c8406c" fill-opacity="0.95"/>
<circle cx="436.7" cy="588.8" r="0.68" fill="#c8406c" fill-opacity="0.95"/>
<circle cx="430.9" cy="597.1" r="0.68" fill="#c8406c" fill-opacity="0.95"/>
<circle cx="442.0" cy="596.9" r="0.68" fill="#c8406c" fill-opacity="0.95"/>
<circle cx="428.1" cy="593.7" r="0.68" fill="#c8406c" fill-opacity="0.95"/>
<circle cx="439.6" cy="599.1" r="0.68" fill="#c8406c" fill-opacity="0.95"/>
<circle cx="431.1" cy="595.3" r="0.68" fill="#c8406c" fill-opacity="0.95"/>
<circle cx="442.6" cy="593.6" r="0.68" fill="#c8406c" fill-opacity="0.95"/>
<circle cx="443.1" cy="598.0" r="0.68" fill="#c8406c" fill-opacity="0.95"/>
<circle cx="431.5" cy="590.2" r="0.68" fill="#c8406c" fill-opacity="0.95"/>
<circle cx="443.8" cy="593.4" r="0.68" fill="#c8406c" fill-opacity="0.95"/>
<circle cx="429.0" cy="598.8" r="0.68" fill="#c8406c" fill-opacity="0.95"/>
<circle cx="435.8" cy="597.6" r="0.68" fill="#c8406c" fill-opacity="0.95"/>
<circle cx="442.0" cy="587.1" r="0.68" fill="#c8406c" fill-opacity="0.95"/>
<circle cx="428.0" cy="596.2" r="0.68" fill="#c8406c" fill-opacity="0.95"/>
<circle cx="442.1" cy="590.3" r="0.68" fill="#c8406c" fill-opacity="0.95"/>
<circle cx="442.0" cy="595.1" r="0.68" fill="#c8406c" fill-opacity="0.95"/>
<circle cx="426.8" cy="596.0" r="0.68" fill="#c8406c" fill-opacity="0.95"/>
<circle cx="441.8" cy="596.3" r="0.68" fill="#c8406c" fill-opacity="0.95"/>
<circle cx="431.7" cy="594.0" r="0.68" fill="#c8406c" fill-opacity="0.95"/>
<circle cx="430.6" cy="533.3" r="0.68" fill="#c8406c" fill-opacity="0.95"/>
<circle cx="439.8" cy="569.6" r="0.68" fill="#c8406c" fill-opacity="0.95"/>
<circle cx="452.3" cy="535.2" r="0.68" fill="#c8406c" fill-opacity="0.95"/>
<circle cx="437.0" cy="530.1" r="0.68" fill="#c8406c" fill-opacity="0.95"/>
<circle cx="423.9" cy="532.9" r="0.68" fill="#c8406c" fill-opacity="0.95"/>
<circle cx="443.0" cy="566.5" r="0.68" fill="#c8406c" fill-opacity="0.95"/>
<circle cx="436.2" cy="545.5" r="0.68" fill="#c8406c" fill-opacity="0.95"/>
<circle cx="424.0" cy="552.3" r="0.68" fill="#c8406c" fill-opacity="0.95"/>
<circle cx="435.1" cy="566.2" r="0.68" fill="#c8406c" fill-opacity="0.95"/>
<circle cx="442.3" cy="573.8" r="0.68" fill="#c8406c" fill-opacity="0.95"/>
<circle cx="431.9" cy="538.5" r="0.68" fill="#c8406c" fill-opacity="0.95"/>
<circle cx="433.7" cy="574.9" r="0.68" fill="#c8406c" fill-opacity="0.95"/>
<circle cx="444.8" cy="533.1" r="0.68" fill="#c8406c" fill-opacity="0.95"/>
<circle cx="430.8" cy="534.4" r="0.68" fill="#c8406c" fill-opacity="0.95"/>
<circle cx="443.5" cy="576.4" r="0.68" fill="#c8406c" fill-opacity="0.95"/>
<circle cx="431.4" cy="541.6" r="0.68" fill="#c8406c" fill-opacity="0.95"/>
<circle cx="439.1" cy="545.5" r="0.68" fill="#c8406c" fill-opacity="0.95"/>
<circle cx="441.4" cy="552.1" r="0.68" fill="#c8406c" fill-opacity="0.95"/>
<circle cx="423.9" cy="547.9" r="0.68" fill="#c8406c" fill-opacity="0.95"/>
<circle cx="444.5" cy="560.8" r="0.68" fill="#c8406c" fill-opacity="0.95"/>
<circle cx="436.3" cy="554.3" r="0.68" fill="#c8406c" fill-opacity="0.95"/>
<circle cx="449.6" cy="539.8" r="0.68" fill="#c8406c" fill-opacity="0.95"/>
<circle cx="433.9" cy="551.6" r="0.68" fill="#c8406c" fill-opacity="0.95"/>
<circle cx="440.0" cy="538.2" r="0.68" fill="#c8406c" fill-opacity="0.95"/>
<circle cx="442.0" cy="533.2" r="0.68" fill="#c8406c" fill-opacity="0.95"/>
<circle cx="446.8" cy="538.7" r="0.68" fill="#c8406c" fill-opacity="0.95"/>
<circle cx="436.9" cy="547.1" r="0.68" fill="#c8406c" fill-opacity="0.95"/>
<circle cx="435.8" cy="536.0" r="0.68" fill="#c8406c" fill-opacity="0.95"/>
<circle cx="441.5" cy="564.2" r="0.68" fill="#c8406c" fill-opacity="0.95"/>
<circle cx="438.1" cy="552.0" r="0.68" fill="#c8406c" fill-opacity="0.95"/>
<circle cx="429.9" cy="540.1" r="0.68" fill="#c8406c" fill-opacity="0.95"/>
<circle cx="440.0" cy="576.9" r="0.68" fill="#c8406c" fill-opacity="0.95"/>
<circle cx="439.7" cy="571.1" r="0.68" fill="#c8406c" fill-opacity="0.95"/>
<circle cx="437.7" cy="573.8" r="0.68" fill="#c8406c" fill-opacity="0.95"/>
<circle cx="449.3" cy="572.9" r="0.68" fill="#c8406c" fill-opacity="0.95"/>
<circle cx="434.5" cy="553.1" r="0.68" fill="#c8406c" fill-opacity="0.95"/>
<circle cx="434.2" cy="560.3" r="0.68" fill="#c8406c" fill-opacity="0.95"/>
<circle cx="441.8" cy="546.3" r="0.68" fill="#c8406c" fill-opacity="0.95"/>
<circle cx="431.2" cy="567.9" r="0.68" fill="#c8406c" fill-opacity="0.95"/>
<circle cx="433.3" cy="561.4" r="0.68" fill="#c8406c" fill-opacity="0.95"/>
<circle cx="442.5" cy="543.0" r="0.68" fill="#c8406c" fill-opacity="0.95"/>
<circle cx="442.4" cy="558.9" r="0.68" fill="#c8406c" fill-opacity="0.95"/>
<circle cx="456.9" cy="585.7" r="0.68" fill="#c8406c" fill-opacity="0.95"/>
<circle cx="471.4" cy="552.7" r="0.68" fill="#c8406c" fill-opacity="0.95"/>
<circle cx="491.6" cy="570.0" r="0.68" fill="#c8406c" fill-opacity="0.95"/>
<circle cx="492.5" cy="551.2" r="0.68" fill="#c8406c" fill-opacity="0.95"/>
<circle cx="474.2" cy="570.6" r="0.68" fill="#c8406c" fill-opacity="0.95"/>
<circle cx="477.4" cy="545.0" r="0.68" fill="#c8406c" fill-opacity="0.95"/>
<circle cx="473.7" cy="545.7" r="0.68" fill="#c8406c" fill-opacity="0.95"/>
<circle cx="475.7" cy="580.5" r="0.68" fill="#c8406c" fill-opacity="0.95"/>
<circle cx="479.4" cy="545.6" r="0.68" fill="#c8406c" fill-opacity="0.95"/>
<circle cx="456.5" cy="566.6" r="0.68" fill="#c8406c" fill-opacity="0.95"/>
<circle cx="474.0" cy="531.3" r="0.68" fill="#c8406c" fill-opacity="0.95"/>
<circle cx="499.1" cy="570.5" r="0.68" fill="#c8406c" fill-opacity="0.95"/>
<circle cx="497.2" cy="538.2" r="0.68" fill="#c8406c" fill-opacity="0.95"/>
<circle cx="465.9" cy="563.5" r="0.68" fill="#c8406c" fill-opacity="0.95"/>
<circle cx="459.0" cy="536.5" r="0.68" fill="#c8406c" fill-opacity="0.95"/>
<circle cx="485.6" cy="530.7" r="0.68" fill="#c8406c" fill-opacity="0.95"/>
<circle cx="492.0" cy="547.8" r="0.68" fill="#c8406c" fill-opacity="0.95"/>
<circle cx="489.1" cy="555.8" r="0.68" fill="#c8406c" fill-opacity="0.95"/>
<circle cx="458.0" cy="553.9" r="0.68" fill="#c8406c" fill-opacity="0.95"/>
<circle cx="453.2" cy="588.4" r="0.68" fill="#c8406c" fill-opacity="0.95"/>
<line x1="418.70" y1="583.10" x2="500.60" y2="555.40" stroke="#bc2449" stroke-width="1.1"/>
<line x1="374.60" y1="525.80" x2="374.60" y2="561.50" stroke="#444" stroke-width="0.9"/>
<line x1="374.60" y1="597.30" x2="374.60" y2="604.00" stroke="#444" stroke-width="0.9"/>
<rect x="371.90" y="561.50" width="5.40" height="35.80" fill="none" stroke="#222" stroke-width="0.8"/>
<line x1="371.90" y1="591.00" x2="377.30" y2="591.00" stroke="#222" stroke-width="0.8"/>
<line x1="418.10" y1="638.90" x2="418.10" y2="638.90" stroke="#444" stroke-width="0.9"/>
<line x1="443.10" y1="638.90" x2="480.00" y2="638.90" stroke="#444" stroke-width="0.9"/>
<rect x="418.10" y="636.30" width="25.00" height="5.20" fill="none" stroke="#222" stroke-width="0.8"/>
<line x1="433.50" y1="636.30" x2="433.50" y2="641.50" stroke="#222" stroke-width="0.8"/>
<circle cx="484.0" cy="638.9" r="0.5" fill="#c8406c"/>
<circle cx="489.0" cy="638.9" r="0.5" fill="#c8406c"/>
<circle cx="494.0" cy="638.9" r="0.5" fill="#c8406c"/>
<circle cx="500.0" cy="638.9" r="0.5" fill="#c8406c"/>
<g transform="translate(458.90 651.38) scale(1.0744439706601743 1)"><text x="0" y="0" font-size="6.6" fill="#333" text-anchor="middle" stroke="#333" stroke-width="0.2"><tspan font-style="italic">r</tspan> = 0.290, 95% CI 0.147-0.421</text></g>
<g transform="translate(460.20 659.08) scale(1.0680522991184433 1)"><text x="0" y="0" font-size="6.6" fill="#333" text-anchor="middle" stroke="#333" stroke-width="0.2"><tspan font-style="italic">P</tspan> value = .000112</text></g>
</svg>
</body></html>
